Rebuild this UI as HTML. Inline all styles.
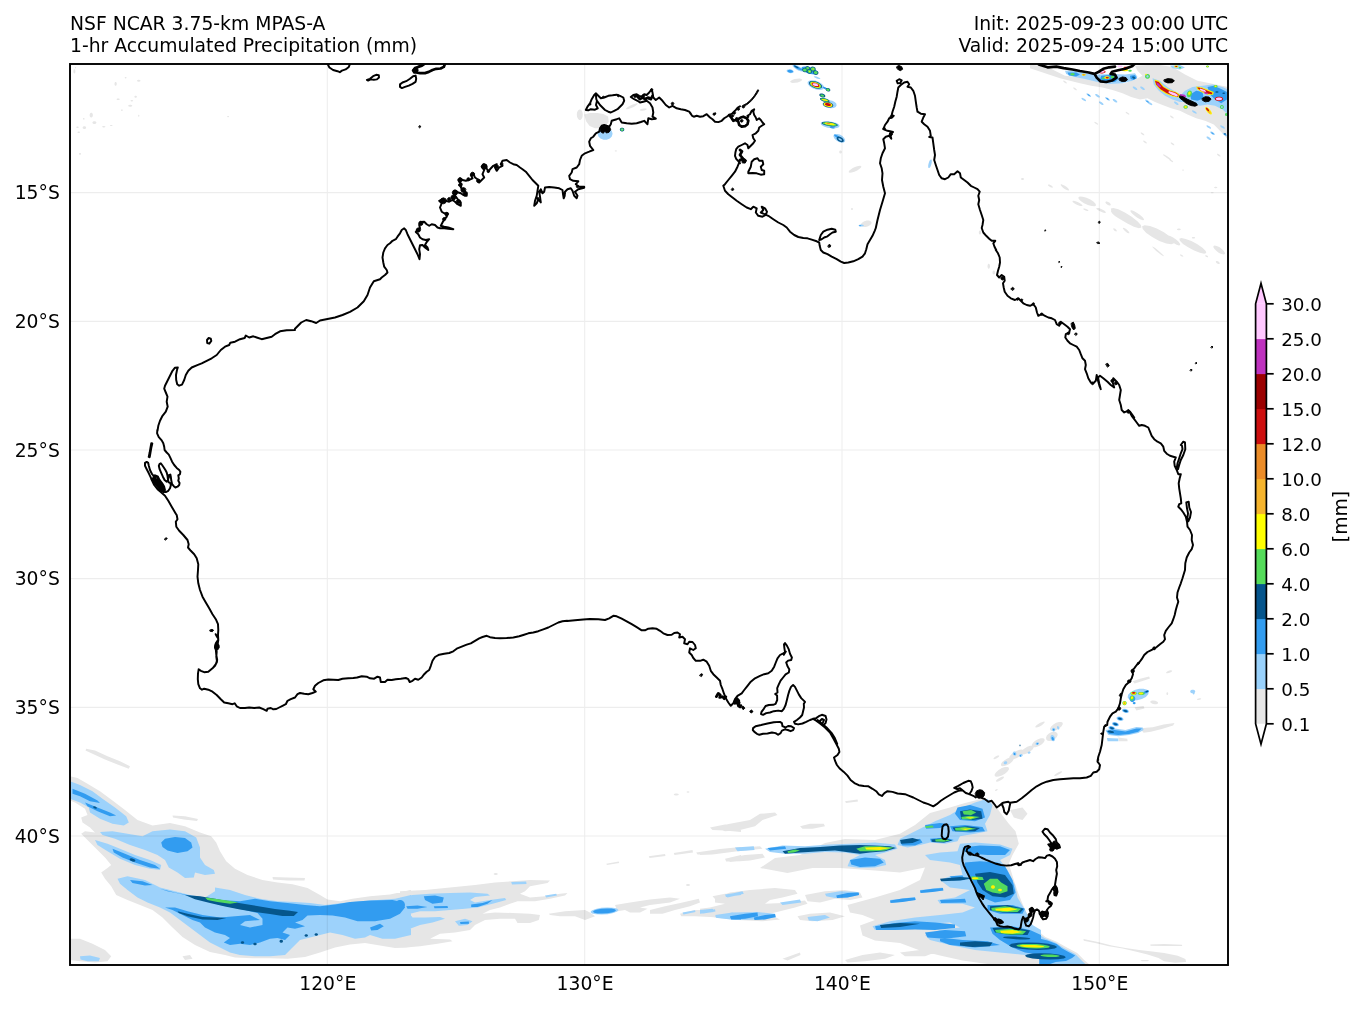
<!DOCTYPE html>
<html lang="en"><head><meta charset="utf-8"><title>NSF NCAR 3.75-km MPAS-A 1-hr Accumulated Precipitation</title>
<style>
html,body{margin:0;padding:0;background:#fff;}
body{width:1364px;height:1009px;overflow:hidden;}
svg{display:block;will-change:transform;opacity:0.9999;}
text{font-family:"DejaVu Sans","Liberation Sans",sans-serif;font-size:18.75px;fill:#000;}
</style></head><body>
<svg width="1364" height="1009" viewBox="0 0 1364 1009">
<rect x="0" y="0" width="1364" height="1009" fill="#ffffff"/>
<defs><clipPath id="mapclip"><rect x="70" y="64" width="1158" height="901"/></clipPath>
<filter id="b1" x="-20%" y="-20%" width="140%" height="140%"><feGaussianBlur stdDeviation="0.6"/></filter>
</defs>

<g clip-path="url(#mapclip)">
<path d="M70.0 776.2L77.5 778.0L87.5 783.8L100.0 791.2L112.5 800.5L125.0 810.0L137.5 820.0L152.5 825.5L170.0 823.0L185.0 826.2L200.0 832.5L211.2 836.2L216.2 842.5L220.0 851.2L226.2 861.2L235.0 868.8L247.5 875.0L262.5 880.0L277.5 882.5L292.5 884.2L307.5 888.0L320.0 895.0L327.5 899.5L340.0 901.2L352.5 898.8L370.0 896.2L390.0 894.5L411.0 890.0L411.0 947.5L395.0 948.0L380.0 945.5L365.0 943.0L350.0 944.5L335.0 947.5L320.0 952.5L305.0 957.0L287.5 958.8L270.0 958.2L252.5 958.2L235.0 957.5L225.0 955.0L210.0 952.0L195.0 945.0L182.5 937.0L172.5 927.5L162.5 917.5L152.5 910.0L140.0 905.0L127.5 900.0L116.2 895.0L111.2 886.2L105.0 878.8L101.2 872.5L107.5 868.0L111.2 865.0L105.0 857.5L95.0 847.5L85.0 837.5L81.2 833.8L85.0 831.2L95.0 832.5L90.0 827.5L82.5 822.5L81.2 817.5L87.5 815.0L85.0 808.8L75.0 802.5L70.0 800.5ZM86.2 748.8L95.0 750.5L107.5 756.2L120.0 761.2L130.0 766.2L128.8 768.8L117.5 764.5L105.0 759.5L92.5 753.8L85.5 750.5ZM172.5 815.5L185.0 816.2L198.0 819.0L197.0 821.0L183.8 819.5L173.0 817.5ZM272.5 877.0L287.5 877.5L305.0 878.0L304.5 880.5L287.5 880.5L273.0 879.5ZM70.0 938.8L80.0 938.8L92.5 943.8L105.0 950.0L111.2 956.2L107.5 961.2L95.0 962.5L80.0 961.2L70.0 960.0ZM182.5 956.2L190.0 955.0L192.5 958.8L185.0 960.0ZM400.0 891.2L425.0 890.0L450.0 887.5L475.0 885.0L495.0 882.5L512.5 881.2L530.0 880.0L550.0 880.5L547.5 883.0L530.0 886.2L525.0 891.2L520.0 893.8L530.0 897.5L545.0 896.2L560.0 893.8L567.5 893.0L565.0 895.5L550.0 898.8L535.0 901.2L517.5 901.2L510.0 903.8L500.0 907.5L490.0 910.0L482.5 913.8L495.0 912.5L512.5 913.0L530.0 913.8L540.0 915.0L538.8 920.0L530.0 923.0L517.5 923.0L515.0 918.8L500.0 918.8L485.0 920.0L475.0 925.0L470.0 930.0L455.0 932.5L440.0 933.8L430.0 938.8L450.0 939.5L452.5 941.2L437.5 943.8L420.0 946.2L400.0 948.0ZM497.8 874.0L497.6 874.4L497.0 874.8L496.2 875.0L495.3 875.0L494.5 874.8L493.9 874.4L493.8 874.0L493.9 873.6L494.5 873.2L495.3 873.0L496.2 873.0L497.0 873.2L497.6 873.6ZM548.8 913.8L565.0 911.2L585.0 910.0L590.0 912.5L595.0 916.2L585.0 920.0L575.0 916.2L560.0 916.2L550.0 915.0ZM615.0 905.0L630.0 902.5L650.0 899.5L670.0 897.5L680.0 898.8L670.0 902.5L650.0 905.0L640.0 907.5L647.5 908.8L640.0 912.5L630.0 912.5L625.0 910.0L617.5 911.2ZM650.0 910.0L665.0 906.2L682.5 902.5L698.8 898.8L700.0 902.5L690.0 906.2L675.0 910.0L662.5 913.8L650.0 913.8ZM606.2 863.8L618.8 861.5L619.2 863.0L607.0 865.0ZM648.8 856.2L665.0 854.0L665.5 856.0L649.5 858.0ZM673.8 853.0L692.5 850.0L693.0 852.5L674.5 855.0ZM696.2 852.5L720.0 849.0L741.0 847.0L741.0 850.5L720.0 852.5L697.5 854.5ZM710.0 827.5L725.0 824.5L741.0 823.0L741.0 832.0L725.0 830.5L712.5 830.0ZM725.0 858.8L741.0 855.0L741.0 861.2L726.2 861.5ZM680.0 913.8L695.0 910.0L712.5 908.8L725.0 911.2L741.0 910.0L741.0 920.0L725.0 918.0L710.0 917.0L695.0 916.2L681.2 916.2ZM712.5 896.2L725.0 893.8L741.0 891.2L741.0 898.0L725.0 899.0L715.0 899.0ZM678.8 794.5L678.5 794.9L677.8 795.3L676.8 795.5L675.7 795.5L674.7 795.3L674.0 794.9L673.8 794.5L674.0 794.1L674.7 793.7L675.7 793.5L676.8 793.5L677.8 793.7L678.5 794.1ZM689.5 792.0L689.4 792.3L688.9 792.6L688.3 792.7L687.7 792.7L687.1 792.6L686.6 792.3L686.5 792.0L686.6 791.7L687.1 791.4L687.7 791.3L688.3 791.3L688.9 791.4L689.4 791.7ZM690.0 885.0L689.8 885.4L689.2 885.8L688.4 886.0L687.6 886.0L686.8 885.8L686.2 885.4L686.0 885.0L686.2 884.6L686.8 884.2L687.6 884.0L688.4 884.0L689.2 884.2L689.8 884.6ZM847.5 905.0L875.0 897.5L900.0 890.0L920.0 880.0L925.0 867.5L900.0 872.5L875.0 870.5L840.0 868.0L812.5 868.0L787.5 873.0L760.0 868.0L775.0 858.0L800.0 855.0L825.0 843.0L845.0 839.0L875.0 840.0L900.0 833.8L915.0 825.0L930.0 813.0L950.0 807.5L965.0 803.0L985.0 798.0L993.8 803.8L1001.2 813.8L1008.8 823.8L1015.5 831.2L1018.8 843.8L1012.5 855.0L1008.8 863.8L1013.8 880.0L1018.0 892.5L1023.0 905.0L1028.8 917.5L1035.0 932.0L1041.0 940.0L1041.0 965.0L987.5 964.0L962.5 960.5L940.0 955.5L920.0 950.5L900.0 943.0L875.0 940.5L862.5 935.5L860.0 925.5L875.0 920.0L862.5 915.0L850.0 912.5ZM712.5 827.5L730.0 823.8L750.0 820.0L760.0 813.8L775.0 812.5L777.5 815.0L762.5 820.0L755.0 826.2L740.0 830.0L725.0 831.2ZM800.0 826.2L810.0 823.8L823.8 823.8L825.0 826.2L812.5 828.8L802.5 828.8ZM700.0 852.5L725.0 848.8L760.0 846.2L762.5 848.8L737.5 851.2L712.5 854.5L700.0 855.0ZM725.0 858.8L745.0 855.0L762.5 853.8L765.0 857.5L750.0 860.5L730.0 862.0ZM715.0 897.5L730.0 892.5L750.0 890.0L775.0 888.0L795.0 890.0L797.5 893.8L782.5 897.5L770.0 900.0L765.0 903.8L782.5 903.0L805.0 900.5L807.5 903.8L795.0 907.5L775.0 912.5L757.5 916.2L775.0 917.0L780.0 919.5L762.5 921.2L737.5 920.0L715.0 917.5L700.0 915.0L700.0 908.8L710.0 907.5L725.0 903.8L715.0 902.5ZM805.0 895.0L825.0 891.2L845.0 890.0L860.0 892.5L862.5 897.5L850.0 900.0L835.0 898.8L820.0 902.5L807.5 901.2ZM797.5 916.2L810.0 913.8L830.0 912.5L845.0 916.2L832.5 920.0L812.5 921.2L800.0 920.0ZM782.5 958.8L800.0 952.5L800.5 955.0L787.5 960.5ZM845.0 960.0L862.5 955.0L880.0 952.5L895.0 955.0L885.0 958.8L865.0 961.2L847.5 962.5ZM900.0 952.5L920.0 950.0L935.0 952.5L925.0 956.2L905.0 956.2ZM845.0 801.2L857.5 799.5L858.0 801.5L846.0 803.0ZM1010.0 810.0L1022.5 807.5L1027.5 813.8L1022.5 820.0L1013.8 817.5ZM1008.9 767.7L1008.9 769.4L1007.5 771.5L1005.0 773.7L1001.8 775.5L998.7 776.6L996.1 776.7L994.7 775.9L994.7 774.3L996.1 772.2L998.6 770.0L1001.8 768.1L1005.0 767.1L1007.5 766.9ZM1013.6 758.2L1013.6 759.6L1012.3 761.5L1010.1 763.5L1007.3 765.1L1004.5 766.1L1002.2 766.2L1001.0 765.5L1001.0 764.0L1002.2 762.1L1004.5 760.2L1007.3 758.6L1010.1 757.6L1012.3 757.4ZM1023.4 750.5L1023.5 752.1L1022.1 754.2L1019.5 756.4L1016.4 758.2L1013.2 759.3L1010.7 759.5L1009.3 758.6L1009.3 757.0L1010.7 754.9L1013.2 752.7L1016.3 750.9L1019.5 749.8L1022.0 749.6ZM1033.6 746.4L1033.6 747.8L1032.3 749.7L1030.1 751.6L1027.3 753.3L1024.5 754.2L1022.2 754.4L1021.0 753.6L1021.0 752.2L1022.2 750.3L1024.5 748.4L1027.3 746.7L1030.1 745.8L1032.3 745.6ZM1044.5 739.1L1044.6 740.7L1043.4 742.7L1041.2 744.7L1038.4 746.3L1035.5 747.2L1033.2 747.2L1031.9 746.4L1031.8 744.8L1033.0 742.8L1035.2 740.8L1038.0 739.2L1040.8 738.2L1043.1 738.2ZM1057.3 733.2L1057.7 735.0L1056.8 737.1L1055.0 739.0L1052.5 740.4L1049.9 741.1L1047.7 740.7L1046.3 739.5L1046.0 737.7L1046.8 735.6L1048.6 733.7L1051.1 732.3L1053.7 731.7L1055.9 732.0ZM1062.7 722.7L1062.7 724.3L1061.6 726.3L1059.4 728.3L1056.6 729.9L1053.7 730.8L1051.4 730.9L1050.1 730.0L1050.0 728.4L1051.2 726.4L1053.4 724.4L1056.2 722.8L1059.0 721.9L1061.3 721.9ZM1044.7 721.8L1044.6 722.6L1043.5 723.8L1041.8 725.2L1039.7 726.4L1037.6 727.2L1036.1 727.5L1035.3 727.3L1035.4 726.5L1036.5 725.3L1038.2 723.9L1040.3 722.7L1042.4 721.9L1043.9 721.5ZM1003.9 776.8L1003.9 777.6L1003.0 778.7L1001.6 779.8L999.8 780.8L998.1 781.5L996.8 781.7L996.1 781.4L996.1 780.6L997.0 779.5L998.4 778.4L1000.2 777.4L1001.9 776.7L1003.2 776.5ZM1062.1 771.4L1062.0 772.0L1061.1 773.0L1059.6 774.1L1057.8 775.1L1056.2 775.8L1054.9 776.1L1054.2 775.9L1054.4 775.3L1055.3 774.3L1056.8 773.2L1058.5 772.2L1060.2 771.5L1061.5 771.2ZM999.2 755.6L999.2 756.2L998.6 757.0L997.5 757.8L996.3 758.6L995.0 759.0L994.0 759.2L993.5 758.9L993.6 758.3L994.2 757.6L995.2 756.7L996.5 756.0L997.7 755.5L998.7 755.4ZM997.6 789.3L997.7 789.6L997.4 790.0L997.0 790.5L996.4 790.8L995.9 790.9L995.4 790.9L995.1 790.7L995.1 790.4L995.3 790.0L995.7 789.5L996.3 789.2L996.9 789.1L997.3 789.1ZM1140.0 728.2L1152.7 727.3L1163.6 724.5L1174.5 723.1L1173.1 725.5L1161.8 729.1L1150.9 731.8L1143.6 732.7ZM1132.7 681.3L1140.0 678.7L1149.1 676.5L1150.0 678.4L1141.8 681.3L1134.5 683.6ZM1134.5 707.3L1143.6 706.0L1144.5 708.5L1136.4 710.4ZM1158.1 703.1L1157.6 703.8L1156.4 704.2L1154.8 704.3L1153.0 704.0L1151.5 703.3L1150.5 702.5L1150.2 701.7L1150.8 701.0L1152.0 700.5L1153.6 700.5L1155.4 700.8L1156.9 701.4L1157.9 702.2ZM1172.2 670.7L1172.0 671.3L1171.3 671.9L1170.1 672.6L1168.8 673.1L1167.5 673.3L1166.5 673.3L1166.0 672.9L1166.2 672.4L1166.9 671.7L1168.0 671.1L1169.4 670.6L1170.7 670.3L1171.7 670.4ZM1201.2 698.7L1201.1 699.1L1200.5 699.4L1199.7 699.7L1198.7 699.9L1197.8 699.9L1197.2 699.7L1196.9 699.5L1197.1 699.1L1197.7 698.8L1198.5 698.5L1199.4 698.3L1200.3 698.3L1201.0 698.4ZM1168.2 693.6L1168.1 694.3L1167.8 694.8L1167.5 695.1L1167.1 695.1L1166.7 694.8L1166.5 694.3L1166.4 693.6L1166.5 693.0L1166.7 692.5L1167.1 692.2L1167.5 692.2L1167.8 692.5L1168.1 693.0ZM1118.2 737.6L1127.3 738.7L1127.6 741.3L1119.1 741.3ZM1030.0 64.5L1047.5 67.0L1065.0 75.8L1078.8 77.0L1095.0 80.8L1110.0 83.2L1125.0 83.2L1135.0 79.5L1142.5 75.8L1150.0 80.8L1157.5 88.2L1165.0 94.5L1172.5 98.2L1180.0 100.8L1186.2 105.8L1192.5 109.5L1201.2 112.0L1210.0 113.2L1220.0 112.0L1228.0 115.8L1228.0 139.5L1221.2 132.0L1213.8 124.5L1205.0 120.8L1196.2 118.2L1187.5 114.5L1180.0 110.8L1171.2 108.2L1162.5 105.1L1155.0 102.0L1147.5 98.2L1140.0 99.5L1131.2 97.0L1122.5 93.2L1112.5 90.1L1102.5 87.6L1091.2 85.8L1080.0 83.2L1070.0 80.8L1060.0 78.2L1045.0 73.2L1030.0 68.2ZM1135.0 65.8L1147.5 65.1L1160.0 65.1L1172.5 67.0L1185.0 74.5L1197.5 80.8L1210.0 83.2L1228.0 87.0L1228.0 115.8L1220.0 112.0L1210.0 113.2L1201.2 112.0L1192.5 109.5L1186.2 105.8L1180.0 100.8L1172.5 98.2L1165.0 94.5L1157.5 88.2L1150.0 80.8L1142.5 75.8L1137.5 70.8ZM1144.3 135.2L1144.0 135.3L1143.3 135.2L1142.5 134.8L1141.7 134.2L1141.0 133.6L1140.7 133.0L1140.7 132.6L1141.0 132.4L1141.7 132.6L1142.5 133.0L1143.3 133.6L1144.0 134.2L1144.3 134.8ZM1146.8 143.3L1146.5 143.4L1145.8 143.3L1145.0 142.9L1144.2 142.3L1143.5 141.7L1143.2 141.1L1143.2 140.7L1143.5 140.6L1144.2 140.7L1145.0 141.1L1145.8 141.7L1146.5 142.3L1146.8 142.9ZM1173.7 118.3L1173.3 118.4L1172.7 118.3L1171.9 117.9L1171.0 117.3L1170.4 116.7L1170.0 116.1L1170.0 115.7L1170.4 115.6L1171.1 115.7L1171.9 116.1L1172.7 116.7L1173.4 117.3L1173.7 117.9ZM1174.3 145.2L1174.0 145.3L1173.3 145.2L1172.5 144.8L1171.7 144.2L1171.0 143.6L1170.7 143.0L1170.7 142.6L1171.0 142.4L1171.7 142.6L1172.5 143.0L1173.3 143.6L1174.0 144.2L1174.3 144.8ZM1166.8 157.0L1166.5 157.2L1165.8 157.0L1165.0 156.6L1164.2 156.1L1163.5 155.4L1163.2 154.9L1163.2 154.5L1163.5 154.3L1164.2 154.5L1165.0 154.9L1165.8 155.4L1166.5 156.1L1166.8 156.6ZM1173.1 162.0L1172.7 162.2L1172.1 162.0L1171.2 161.6L1170.4 161.1L1169.8 160.4L1169.4 159.9L1169.4 159.5L1169.8 159.3L1170.4 159.5L1171.3 159.9L1172.1 160.4L1172.7 161.1L1173.1 161.6ZM1220.6 156.4L1220.2 156.6L1219.6 156.4L1218.7 156.0L1217.9 155.4L1217.3 154.8L1216.9 154.2L1216.9 153.8L1217.3 153.7L1217.9 153.8L1218.8 154.2L1219.6 154.8L1220.2 155.4L1220.6 156.0ZM1098.1 124.5L1097.7 124.7L1097.1 124.5L1096.2 124.1L1095.4 123.6L1094.8 122.9L1094.4 122.4L1094.4 122.0L1094.8 121.8L1095.4 122.0L1096.3 122.4L1097.1 122.9L1097.7 123.6L1098.1 124.1ZM1064.3 187.0L1064.0 187.2L1063.3 187.0L1062.5 186.6L1061.7 186.1L1061.0 185.4L1060.7 184.9L1060.7 184.5L1061.0 184.3L1061.7 184.5L1062.5 184.9L1063.3 185.4L1064.0 186.1L1064.3 186.6ZM1129.3 114.5L1129.0 114.7L1128.3 114.5L1127.5 114.1L1126.7 113.6L1126.0 112.9L1125.7 112.4L1125.7 112.0L1126.0 111.8L1126.7 112.0L1127.5 112.4L1128.3 112.9L1129.0 113.6L1129.3 114.1ZM1076.8 90.2L1076.5 90.3L1075.8 90.2L1075.0 89.8L1074.2 89.2L1073.5 88.6L1073.2 88.0L1073.2 87.6L1073.5 87.4L1074.2 87.6L1075.0 88.0L1075.8 88.6L1076.5 89.2L1076.8 89.8ZM1066.8 83.3L1066.5 83.4L1065.8 83.3L1065.0 82.9L1064.2 82.3L1063.5 81.7L1063.2 81.1L1063.2 80.7L1063.5 80.6L1064.2 80.7L1065.0 81.1L1065.8 81.7L1066.5 82.3L1066.8 82.9ZM802.2 79.7L801.7 80.6L800.2 81.6L797.8 82.4L795.1 82.8L792.7 82.9L790.9 82.5L790.1 81.8L790.6 80.9L792.1 79.9L794.5 79.1L797.2 78.7L799.6 78.6L801.4 79.0ZM1141.4 227.6L1138.9 228.2L1133.9 226.8L1127.4 223.6L1120.6 219.4L1114.8 214.9L1111.4 211.0L1110.8 208.5L1113.3 207.9L1118.3 209.3L1124.9 212.5L1131.7 216.7L1137.4 221.3L1140.9 225.1ZM1124.6 220.1L1123.4 220.4L1121.0 219.7L1118.1 218.1L1115.0 216.0L1112.5 213.7L1111.1 211.8L1111.0 210.5L1112.2 210.2L1114.5 210.9L1117.5 212.4L1120.5 214.6L1123.0 216.8L1124.5 218.8ZM1144.0 220.1L1142.9 220.3L1140.6 219.5L1137.7 217.9L1134.6 215.8L1132.1 213.5L1130.6 211.7L1130.4 210.5L1131.6 210.3L1133.8 211.1L1136.8 212.7L1139.8 214.8L1142.4 217.0L1143.9 218.9ZM1174.0 243.2L1171.4 244.3L1166.2 243.5L1159.3 240.9L1152.2 237.1L1146.3 232.9L1142.7 229.0L1142.1 226.2L1144.7 225.2L1150.0 226.0L1156.8 228.5L1163.9 232.3L1169.8 236.6L1173.4 240.4ZM1180.2 245.1L1178.9 245.4L1176.6 244.7L1173.6 243.1L1170.6 241.0L1168.1 238.7L1166.6 236.8L1166.5 235.5L1167.7 235.2L1170.1 235.9L1173.1 237.4L1176.1 239.6L1178.6 241.8L1180.0 243.8ZM1206.3 253.0L1204.2 253.7L1199.9 252.8L1194.1 250.5L1188.1 247.3L1183.0 243.9L1179.9 240.8L1179.3 238.7L1181.4 238.0L1185.7 238.9L1191.4 241.1L1197.4 244.3L1202.5 247.8L1205.7 250.9ZM1096.0 205.5L1094.6 206.3L1091.7 206.1L1087.9 205.0L1084.0 203.2L1080.7 201.0L1078.7 198.9L1078.4 197.3L1079.8 196.5L1082.7 196.7L1086.5 197.8L1090.4 199.6L1093.7 201.8L1095.7 203.9ZM1082.5 205.8L1081.8 206.1L1080.2 205.9L1078.0 205.2L1075.8 204.2L1073.9 203.0L1072.7 201.9L1072.5 201.1L1073.2 200.8L1074.8 201.0L1077.0 201.7L1079.2 202.8L1081.1 204.0L1082.3 205.0ZM1224.9 254.0L1223.7 254.5L1221.6 254.1L1219.0 252.9L1216.5 251.1L1214.5 249.1L1213.4 247.3L1213.5 246.0L1214.7 245.5L1216.7 245.9L1219.3 247.1L1221.8 248.9L1223.8 250.9L1224.9 252.7ZM1052.8 187.5L1052.4 187.7L1051.5 187.6L1050.5 187.2L1049.4 186.6L1048.5 185.9L1048.0 185.2L1048.0 184.7L1048.5 184.5L1049.3 184.6L1050.4 185.0L1051.4 185.6L1052.3 186.3L1052.8 187.0ZM1069.0 190.3L1068.2 190.5L1066.9 190.1L1065.1 189.2L1063.3 188.0L1061.9 186.7L1061.1 185.5L1061.0 184.7L1061.8 184.5L1063.1 184.9L1064.9 185.8L1066.7 187.0L1068.1 188.3L1068.9 189.5ZM1105.9 212.6L1105.2 213.0L1103.6 212.8L1101.6 212.1L1099.5 211.1L1097.7 210.0L1096.5 209.0L1096.3 208.2L1097.1 207.9L1098.6 208.0L1100.6 208.7L1102.7 209.7L1104.6 210.8L1105.7 211.9ZM1110.7 205.0L1110.1 205.4L1109.2 205.4L1108.0 205.0L1106.8 204.3L1105.9 203.5L1105.4 202.6L1105.4 201.9L1106.0 201.6L1106.9 201.6L1108.1 202.0L1109.3 202.6L1110.2 203.5L1110.7 204.3ZM1163.9 256.3L1163.1 256.1L1161.3 254.9L1158.8 253.1L1156.2 250.9L1154.0 248.8L1152.6 247.2L1152.2 246.5L1153.0 246.7L1154.8 247.8L1157.3 249.7L1159.9 251.9L1162.1 254.0L1163.6 255.5ZM1171.2 160.0L1170.6 160.1L1169.5 159.7L1168.1 158.8L1166.6 157.8L1165.3 156.7L1164.5 155.8L1164.4 155.2L1164.9 155.2L1166.0 155.6L1167.5 156.4L1169.0 157.5L1170.3 158.6L1171.1 159.5ZM1220.6 156.4L1220.3 156.6L1219.8 156.5L1219.1 156.3L1218.5 156.0L1218.0 155.5L1217.7 155.1L1217.7 154.7L1218.0 154.5L1218.5 154.6L1219.2 154.8L1219.8 155.2L1220.3 155.6L1220.6 156.0ZM1183.8 170.1L1183.7 170.4L1183.5 170.7L1183.2 170.8L1182.9 170.8L1182.6 170.7L1182.4 170.4L1182.4 170.1L1182.4 169.8L1182.6 169.6L1182.9 169.5L1183.2 169.5L1183.5 169.6L1183.7 169.8ZM1217.4 187.5L1217.2 187.8L1216.7 188.0L1216.1 188.2L1215.3 188.2L1214.7 188.0L1214.2 187.8L1214.0 187.5L1214.2 187.2L1214.7 187.0L1215.3 186.8L1216.1 186.8L1216.7 187.0L1217.2 187.2ZM1213.6 192.8L1213.5 193.0L1213.1 193.2L1212.5 193.3L1211.9 193.3L1211.4 193.2L1211.0 193.0L1210.8 192.8L1211.0 192.5L1211.4 192.3L1211.9 192.2L1212.5 192.2L1213.1 192.3L1213.5 192.5ZM1129.3 233.2L1128.7 233.3L1127.5 232.9L1126.1 232.0L1124.7 230.8L1123.6 229.6L1122.9 228.5L1122.9 227.9L1123.5 227.8L1124.7 228.2L1126.1 229.1L1127.5 230.3L1128.7 231.6L1129.3 232.6ZM1116.7 231.3L1116.3 231.5L1115.6 231.3L1114.8 230.9L1114.0 230.3L1113.5 229.6L1113.2 228.9L1113.3 228.4L1113.7 228.3L1114.4 228.4L1115.2 228.8L1116.0 229.5L1116.5 230.2L1116.8 230.8ZM1180.8 229.4L1180.6 229.8L1180.1 230.1L1179.3 230.3L1178.5 230.3L1177.7 230.1L1177.1 229.8L1176.9 229.4L1177.1 229.1L1177.7 228.8L1178.5 228.6L1179.3 228.6L1180.1 228.8L1180.6 229.1ZM1195.1 237.8L1195.0 238.1L1194.5 238.4L1193.8 238.6L1193.1 238.6L1192.4 238.4L1192.0 238.1L1191.8 237.8L1192.0 237.4L1192.4 237.1L1193.1 237.0L1193.8 237.0L1194.5 237.1L1195.0 237.4ZM1219.7 263.6L1219.3 263.9L1218.5 263.9L1217.7 263.7L1216.8 263.2L1216.1 262.6L1215.8 261.9L1215.9 261.4L1216.3 261.1L1217.0 261.1L1217.9 261.3L1218.7 261.8L1219.4 262.4L1219.8 263.1ZM1183.4 256.5L1183.0 256.7L1182.4 256.6L1181.7 256.4L1181.0 255.9L1180.3 255.4L1180.0 254.9L1180.0 254.6L1180.3 254.4L1180.9 254.5L1181.6 254.8L1182.4 255.2L1183.0 255.7L1183.3 256.2ZM1088.4 210.7L1088.1 210.9L1087.2 210.9L1086.1 210.7L1085.0 210.3L1084.0 209.7L1083.4 209.2L1083.2 208.8L1083.6 208.5L1084.4 208.5L1085.5 208.7L1086.7 209.2L1087.7 209.7L1088.3 210.2ZM1208.1 257.1L1207.8 257.3L1207.2 257.3L1206.6 257.1L1205.9 256.8L1205.4 256.3L1205.2 255.8L1205.2 255.4L1205.5 255.2L1206.1 255.2L1206.8 255.4L1207.4 255.7L1207.9 256.2L1208.1 256.7ZM582.8 114.6L582.5 117.0L581.7 118.8L580.5 119.9L579.2 119.9L578.0 118.8L577.1 117.0L576.8 114.6L577.1 112.3L578.0 110.5L579.2 109.4L580.5 109.4L581.7 110.5L582.5 112.3ZM584.3 114.6L589.6 112.9L597.4 112.9L603.3 114.0L608.1 116.4L608.7 121.8L605.7 126.0L601.0 128.3L595.0 128.3L589.6 126.0L586.1 121.2ZM637.8 103.5L637.5 104.3L636.0 105.5L633.8 106.9L631.1 108.1L628.6 109.0L626.8 109.3L626.0 109.1L626.3 108.3L627.8 107.1L630.0 105.8L632.7 104.5L635.2 103.7L637.0 103.3ZM646.7 109.0L646.5 109.5L645.6 110.0L644.2 110.5L642.6 110.8L641.2 110.8L640.1 110.6L639.7 110.2L640.0 109.7L640.9 109.1L642.3 108.7L643.8 108.4L645.3 108.4L646.3 108.6ZM616.9 151.0L616.8 151.3L616.5 151.5L616.1 151.6L615.6 151.6L615.2 151.5L614.9 151.3L614.8 151.0L614.9 150.6L615.2 150.4L615.6 150.3L616.1 150.3L616.5 150.4L616.8 150.6ZM116.8 83.9L116.6 84.7L116.3 85.4L115.9 85.8L115.4 85.8L114.9 85.4L114.6 84.7L114.5 83.9L114.6 83.0L114.9 82.3L115.4 81.9L115.9 81.9L116.3 82.3L116.6 83.0ZM126.5 77.6L126.4 78.0L126.2 78.2L125.8 78.4L125.4 78.4L125.1 78.2L124.8 78.0L124.8 77.6L124.8 77.3L125.1 77.0L125.4 76.9L125.8 76.9L126.2 77.0L126.4 77.3ZM140.5 80.8L140.3 81.2L139.8 81.5L139.1 81.7L138.4 81.7L137.7 81.5L137.2 81.2L137.0 80.8L137.2 80.3L137.7 80.0L138.4 79.8L139.1 79.8L139.8 80.0L140.3 80.3ZM119.8 99.2L119.6 99.6L119.1 99.9L118.5 100.1L117.8 100.1L117.1 99.9L116.7 99.6L116.5 99.2L116.7 98.9L117.1 98.6L117.8 98.4L118.5 98.4L119.1 98.6L119.6 98.9ZM136.9 96.8L136.8 97.2L136.4 97.5L135.9 97.7L135.3 97.7L134.8 97.5L134.5 97.2L134.4 96.8L134.5 96.3L134.8 96.0L135.3 95.8L135.9 95.8L136.4 96.0L136.8 96.3ZM133.2 100.8L133.1 101.0L132.7 101.2L132.2 101.4L131.6 101.4L131.0 101.2L130.6 101.0L130.5 100.8L130.6 100.5L131.0 100.3L131.6 100.1L132.2 100.1L132.7 100.3L133.1 100.5ZM132.2 105.8L132.1 106.2L131.5 106.5L130.7 106.7L129.8 106.7L129.0 106.5L128.4 106.2L128.2 105.8L128.4 105.3L129.0 105.0L129.8 104.8L130.7 104.8L131.5 105.0L132.1 105.3ZM122.8 110.1L122.7 110.5L122.4 110.7L122.1 110.9L121.7 110.9L121.3 110.7L121.1 110.5L121.0 110.1L121.1 109.8L121.3 109.5L121.7 109.4L122.1 109.4L122.4 109.5L122.7 109.8ZM92.9 115.1L92.7 116.2L92.3 117.1L91.6 117.6L90.9 117.6L90.2 117.1L89.8 116.2L89.6 115.1L89.8 114.0L90.2 113.2L90.9 112.7L91.6 112.7L92.3 113.2L92.7 114.0ZM96.4 122.6L96.2 123.2L95.6 123.7L94.8 124.0L93.9 124.0L93.1 123.7L92.6 123.2L92.4 122.6L92.6 122.0L93.1 121.5L93.9 121.3L94.8 121.3L95.6 121.5L96.2 122.0ZM84.6 118.9L84.5 119.2L84.3 119.5L83.9 119.6L83.6 119.6L83.2 119.5L83.0 119.2L82.9 118.9L83.0 118.5L83.2 118.3L83.6 118.1L83.9 118.1L84.3 118.3L84.5 118.5ZM78.9 127.2L78.7 127.6L78.4 127.8L77.8 128.0L77.2 128.0L76.6 127.8L76.3 127.6L76.1 127.2L76.3 126.9L76.6 126.7L77.2 126.5L77.8 126.5L78.4 126.7L78.7 126.9ZM86.1 127.6L86.0 128.2L85.5 128.7L84.8 129.0L84.0 129.0L83.3 128.7L82.8 128.2L82.6 127.6L82.8 127.0L83.3 126.5L84.0 126.3L84.8 126.3L85.5 126.5L86.0 127.0ZM80.1 132.2L80.0 132.5L79.6 132.7L79.1 132.9L78.4 132.9L77.9 132.7L77.5 132.5L77.4 132.2L77.5 132.0L77.9 131.8L78.4 131.6L79.1 131.6L79.6 131.8L80.0 132.0ZM105.5 126.8L105.3 127.0L104.8 127.2L104.1 127.4L103.4 127.4L102.7 127.2L102.2 127.0L102.0 126.8L102.2 126.5L102.7 126.3L103.4 126.1L104.1 126.1L104.8 126.3L105.3 126.5ZM112.5 125.5L112.4 125.8L112.0 126.0L111.5 126.1L111.0 126.1L110.5 126.0L110.1 125.8L110.0 125.5L110.1 125.2L110.5 125.0L111.0 124.9L111.5 124.9L112.0 125.0L112.4 125.2ZM139.4 115.8L139.3 116.2L139.1 116.5L138.9 116.7L138.6 116.7L138.4 116.5L138.2 116.2L138.1 115.8L138.2 115.3L138.4 115.0L138.6 114.8L138.9 114.8L139.1 115.0L139.3 115.3ZM75.4 71.4L75.3 72.4L75.0 73.1L74.6 73.6L74.2 73.6L73.8 73.1L73.5 72.4L73.4 71.4L73.5 70.4L73.8 69.6L74.2 69.2L74.6 69.2L75.0 69.6L75.3 70.4ZM76.1 67.6L76.1 68.0L75.9 68.2L75.7 68.4L75.5 68.4L75.3 68.2L75.2 68.0L75.1 67.6L75.2 67.3L75.3 67.0L75.5 66.9L75.7 66.9L75.9 67.0L76.1 67.3ZM81.0 153.9L80.9 154.3L80.6 154.7L80.2 154.8L79.8 154.8L79.4 154.7L79.1 154.3L79.0 153.9L79.1 153.4L79.4 153.1L79.8 152.9L80.2 152.9L80.6 153.1L80.9 153.4ZM229.1 116.6L229.0 116.9L228.7 117.1L228.3 117.2L227.9 117.2L227.5 117.1L227.2 116.9L227.1 116.6L227.2 116.4L227.5 116.1L227.9 116.0L228.3 116.0L228.7 116.1L229.0 116.4ZM861.3 166.3L861.1 167.4L859.6 168.8L857.2 170.4L854.4 171.7L851.7 172.5L849.7 172.7L848.7 172.2L848.9 171.1L850.4 169.7L852.8 168.1L855.6 166.8L858.3 166.0L860.3 165.8ZM871.6 222.3L871.4 223.7L870.2 225.1L868.2 226.3L865.8 226.9L863.5 226.9L861.8 226.3L860.9 225.2L861.1 223.8L862.3 222.4L864.3 221.2L866.7 220.6L869.0 220.6L870.7 221.2ZM1024.0 179.0L1023.9 179.4L1023.4 179.8L1022.8 180.0L1022.2 180.0L1021.6 179.8L1021.1 179.4L1021.0 179.0L1021.1 178.6L1021.6 178.2L1022.2 178.0L1022.8 178.0L1023.4 178.2L1023.9 178.6ZM853.0 209.0L852.9 209.4L852.6 209.8L852.2 210.0L851.8 210.0L851.4 209.8L851.1 209.4L851.0 209.0L851.1 208.6L851.4 208.2L851.8 208.0L852.2 208.0L852.6 208.2L852.9 208.6ZM841.8 152.0L841.6 152.7L841.3 153.2L840.8 153.5L840.2 153.5L839.7 153.2L839.4 152.7L839.2 152.0L839.4 151.3L839.7 150.8L840.2 150.5L840.8 150.5L841.3 150.8L841.6 151.3ZM981.2 232.5L981.1 233.4L980.8 234.1L980.3 234.4L979.7 234.4L979.2 234.1L978.9 233.4L978.8 232.5L978.9 231.6L979.2 230.9L979.7 230.6L980.3 230.6L980.8 230.9L981.1 231.6ZM990.0 266.2L989.9 267.3L989.5 268.2L989.0 268.7L988.5 268.7L988.0 268.2L987.6 267.3L987.5 266.2L987.6 265.2L988.0 264.3L988.5 263.8L989.0 263.8L989.5 264.3L989.9 265.2ZM995.0 272.5L994.9 273.4L994.5 274.1L994.0 274.4L993.5 274.4L993.0 274.1L992.6 273.4L992.5 272.5L992.6 271.6L993.0 270.9L993.5 270.6L994.0 270.6L994.5 270.9L994.9 271.6ZM1041.0 933.4L1045.4 937.0L1056.7 941.8L1066.0 946.9L1077.2 953.1L1084.4 960.3L1090.1 965.0L1041.0 965.0ZM1083.4 939.0L1097.9 942.0L1111.7 945.5L1125.5 948.0L1139.2 949.9L1150.3 951.3L1164.1 953.1L1177.8 955.8L1185.4 959.0L1186.1 962.0L1175.1 962.7L1164.1 961.3L1158.5 957.9L1147.5 954.4L1136.5 951.7L1122.7 948.5L1108.9 946.2L1095.1 943.0L1083.8 940.7ZM1150.3 944.4L1164.1 944.1L1182.0 944.7L1182.2 946.0L1164.1 946.0L1150.5 945.8ZM1148.9 960.6L1148.5 960.9L1147.3 961.2L1145.7 961.3L1143.8 961.3L1142.2 961.2L1141.0 960.9L1140.6 960.6L1141.0 960.3L1142.2 960.1L1143.8 960.0L1145.7 960.0L1147.3 960.1L1148.5 960.3Z" fill="#e6e6e6" stroke="none"/>
<path d="M70.0 781.2L80.0 785.0L92.5 791.2L102.5 798.8L115.0 807.5L126.2 816.2L128.8 822.5L123.8 825.5L112.5 823.8L100.0 818.8L90.0 812.5L88.8 807.5L80.0 802.5L70.0 798.8ZM100.0 832.0L112.5 831.2L127.5 833.8L142.5 836.2L152.5 831.2L170.0 829.5L185.0 831.2L196.2 837.5L200.0 847.5L200.0 857.5L205.0 865.0L213.8 870.0L215.0 873.8L205.0 875.0L195.0 872.5L193.8 877.5L185.0 878.0L177.5 872.5L168.8 867.5L165.0 860.0L157.5 855.0L145.0 850.0L130.0 845.0L115.0 838.8L102.5 835.0ZM95.0 840.0L107.5 843.8L120.0 848.8L135.0 855.0L150.0 860.0L161.2 865.0L160.0 870.0L150.0 868.8L135.0 865.0L120.0 858.8L107.5 851.2L97.5 845.0ZM117.5 878.8L127.5 876.2L145.0 880.0L160.0 887.5L175.0 891.2L190.0 895.0L205.0 897.5L215.0 891.2L215.0 887.5L230.0 890.0L245.0 895.0L260.0 898.8L277.5 901.2L295.0 902.0L310.0 903.0L325.0 905.0L342.5 903.0L360.0 901.2L377.5 900.0L395.0 898.8L411.0 895.0L411.0 935.0L395.0 938.8L382.5 938.8L370.0 935.0L365.0 937.5L355.0 938.8L342.5 935.0L330.0 932.5L320.0 935.0L310.0 937.5L300.0 940.0L292.5 947.5L285.0 955.0L270.0 956.2L255.0 956.2L240.0 955.0L230.0 952.5L220.0 947.5L210.0 942.5L200.0 935.0L190.0 927.5L180.0 920.0L170.0 912.5L160.0 907.5L147.5 902.5L137.5 897.5L127.5 890.0L120.0 883.8ZM80.0 956.2L90.0 955.5L100.0 958.0L98.8 961.2L87.5 961.2L80.5 959.5ZM400.0 897.5L412.5 895.0L430.0 893.8L450.0 893.0L470.0 892.5L487.5 893.8L490.0 895.5L475.0 897.0L470.0 900.0L475.0 902.5L490.0 900.0L505.0 898.0L506.2 900.0L492.5 903.8L477.5 907.5L465.0 908.8L450.0 910.0L435.0 911.2L420.0 911.2L410.0 913.8L412.5 917.5L425.0 917.5L440.0 917.0L445.0 918.8L432.5 922.5L420.0 925.0L410.0 928.8L400.0 930.0ZM455.0 921.2L465.0 918.8L472.5 921.2L467.5 925.0L458.8 925.8ZM511.2 882.0L526.2 881.5L526.5 884.0L512.0 884.5ZM545.0 895.5L556.2 893.8L557.0 895.5L546.2 897.5ZM618.5 910.0L617.2 911.6L613.4 913.1L607.8 914.2L601.6 914.6L596.0 914.3L592.0 913.4L590.5 912.0L591.8 910.4L595.6 908.9L601.2 907.8L607.4 907.4L613.0 907.7L617.0 908.6ZM682.5 912.5L695.0 910.2L695.5 912.0L683.5 914.5ZM702.5 911.2L715.0 909.2L715.5 911.5L703.5 913.5ZM715.0 916.2L732.5 912.2L733.5 914.5L716.5 918.0ZM725.0 894.5L741.0 892.0L741.0 895.0L726.0 897.0ZM765.0 848.8L782.5 845.5L805.0 846.2L830.0 844.5L850.0 843.8L875.0 842.5L895.0 844.5L897.5 848.8L885.0 852.5L875.0 855.0L885.0 860.0L886.2 865.0L875.0 867.5L860.0 868.0L847.5 866.2L850.0 860.0L860.0 855.0L845.0 852.5L825.0 852.0L805.0 853.8L785.0 853.8L770.0 852.0ZM735.0 847.5L753.8 846.2L754.5 850.0L737.5 851.2ZM975.0 802.5L987.5 798.8L992.5 805.0L990.0 815.0L985.0 823.8L987.5 831.2L975.0 833.8L960.0 836.2L957.5 841.2L945.0 843.8L930.0 842.5L920.0 845.0L907.5 847.5L897.5 845.0L900.0 838.8L910.0 833.8L922.5 827.5L935.0 821.2L950.0 815.0L960.0 808.8ZM960.0 843.8L975.0 842.5L1000.0 844.5L1012.5 848.8L1010.0 855.0L1000.0 860.0L1007.5 870.0L1015.0 885.0L1017.5 897.5L1025.0 910.0L1032.5 925.0L1041.0 930.0L1041.0 957.5L1025.0 955.0L1000.0 952.5L975.0 950.0L950.0 945.0L930.0 940.0L925.0 935.0L940.0 930.0L960.0 927.5L950.0 922.5L925.0 923.8L900.0 927.5L875.0 930.0L872.5 926.2L890.0 921.2L915.0 917.5L940.0 915.0L962.5 912.5L975.0 907.5L962.5 903.8L940.0 903.8L937.5 900.0L955.0 897.5L970.0 890.0L950.0 887.5L940.0 880.0L950.0 876.2L962.5 875.0L960.0 865.0L950.0 862.5L930.0 860.0L925.0 855.0L940.0 852.5L957.5 851.2ZM890.0 900.0L915.0 897.0L916.2 900.0L892.5 903.0ZM920.0 890.0L942.5 887.5L943.8 890.5L921.2 893.0ZM825.0 893.8L840.0 891.2L857.5 892.0L858.8 895.0L847.5 897.5L835.0 898.0L826.2 896.2ZM725.0 895.0L742.5 891.2L743.8 893.8L727.5 897.5ZM780.0 902.5L800.0 899.5L801.2 902.5L782.5 905.0ZM700.0 910.0L712.5 908.8L713.8 912.0L700.0 913.8ZM715.0 915.0L732.5 912.5L757.5 912.0L775.0 913.8L776.2 917.5L757.5 919.5L735.0 920.0L717.5 918.0ZM807.5 917.0L825.0 915.0L830.0 917.5L817.5 921.2L808.8 920.5ZM1054.8 737.4L1055.1 738.8L1054.9 740.1L1054.3 741.0L1053.4 741.3L1052.3 741.1L1051.4 740.2L1050.7 738.9L1050.4 737.5L1050.6 736.2L1051.2 735.3L1052.1 735.0L1053.1 735.3L1054.1 736.2ZM1055.3 729.0L1055.4 729.8L1055.2 730.6L1054.6 731.2L1053.9 731.4L1053.1 731.4L1052.4 730.9L1051.9 730.3L1051.8 729.5L1052.1 728.7L1052.6 728.1L1053.4 727.8L1054.2 727.9L1054.9 728.3ZM1039.0 743.0L1039.0 743.7L1038.7 744.3L1038.1 744.8L1037.4 745.1L1036.6 745.1L1035.9 744.8L1035.6 744.3L1035.5 743.6L1035.8 743.0L1036.4 742.4L1037.2 742.2L1037.9 742.2L1038.6 742.5ZM1016.3 753.0L1016.4 754.0L1016.2 754.9L1015.7 755.5L1014.9 755.8L1014.1 755.6L1013.3 755.1L1012.8 754.3L1012.7 753.3L1012.9 752.4L1013.4 751.8L1014.2 751.5L1015.0 751.6L1015.8 752.2ZM1022.6 754.8L1022.7 755.5L1022.4 756.1L1021.8 756.6L1021.0 756.9L1020.2 756.9L1019.6 756.6L1019.2 756.1L1019.2 755.4L1019.5 754.8L1020.0 754.3L1020.8 754.0L1021.6 754.0L1022.2 754.3ZM1030.5 752.2L1030.5 752.7L1030.2 753.2L1029.8 753.6L1029.2 753.8L1028.5 753.8L1028.0 753.6L1027.7 753.2L1027.7 752.7L1027.9 752.2L1028.4 751.8L1029.0 751.6L1029.7 751.6L1030.2 751.8ZM1007.2 762.1L1007.2 762.8L1006.9 763.4L1006.3 763.9L1005.6 764.2L1004.8 764.2L1004.1 763.9L1003.7 763.3L1003.7 762.7L1004.0 762.0L1004.6 761.5L1005.3 761.3L1006.1 761.3L1006.8 761.6ZM1059.2 727.4L1059.4 728.2L1059.3 728.9L1059.0 729.4L1058.6 729.6L1058.0 729.4L1057.5 728.9L1057.2 728.2L1057.0 727.4L1057.1 726.7L1057.3 726.2L1057.8 726.1L1058.3 726.2L1058.8 726.7ZM1105.5 730.0L1114.5 728.5L1125.5 730.0L1136.4 727.1L1142.7 727.5L1143.6 730.0L1138.2 732.9L1129.1 735.1L1118.2 736.2L1108.2 735.1ZM1106.9 738.0L1118.2 738.4L1118.5 741.3L1107.6 741.3ZM1129.0 711.9L1128.4 712.6L1127.2 713.0L1125.7 713.0L1124.2 712.6L1122.9 711.8L1122.1 710.9L1121.9 710.0L1122.5 709.2L1123.7 708.8L1125.2 708.8L1126.7 709.2L1128.0 710.0L1128.8 710.9ZM1123.5 719.7L1122.9 720.4L1121.8 720.8L1120.3 720.8L1118.7 720.4L1117.4 719.7L1116.6 718.7L1116.5 717.8L1117.1 717.0L1118.2 716.6L1119.7 716.6L1121.3 717.1L1122.6 717.8L1123.4 718.7ZM1119.0 725.1L1118.4 725.9L1117.2 726.3L1115.7 726.3L1114.2 725.9L1112.9 725.1L1112.1 724.2L1111.9 723.2L1112.5 722.5L1113.7 722.1L1115.2 722.1L1116.7 722.5L1118.0 723.3L1118.8 724.2ZM1115.3 729.1L1114.8 729.9L1113.6 730.3L1112.1 730.3L1110.5 729.9L1109.2 729.1L1108.4 728.2L1108.3 727.2L1108.9 726.5L1110.0 726.1L1111.5 726.1L1113.1 726.5L1114.4 727.3L1115.2 728.2ZM1195.3 691.5L1195.0 692.2L1194.3 692.9L1193.3 693.2L1192.2 693.2L1191.1 692.9L1190.4 692.2L1190.2 691.5L1190.4 690.7L1191.1 690.0L1192.2 689.7L1193.3 689.7L1194.3 690.0L1195.0 690.7ZM1194.7 692.7L1194.6 693.5L1194.3 694.1L1193.9 694.5L1193.4 694.5L1193.0 694.1L1192.7 693.5L1192.5 692.7L1192.7 691.9L1193.0 691.3L1193.4 691.0L1193.9 691.0L1194.3 691.3L1194.6 691.9ZM1148.7 691.7L1148.3 694.3L1145.9 696.9L1141.9 699.1L1137.2 700.3L1132.7 700.4L1129.3 699.4L1127.6 697.4L1128.1 694.8L1130.5 692.2L1134.5 690.0L1139.2 688.8L1143.6 688.7L1147.1 689.7ZM1065.0 70.8L1075.0 70.8L1085.0 73.2L1097.5 74.5L1112.5 73.9L1125.0 74.5L1135.0 73.2L1137.5 77.0L1132.5 80.8L1122.5 83.2L1110.0 83.9L1097.5 82.0L1085.0 78.9L1072.5 76.4L1066.2 73.9ZM1185.0 90.8L1192.5 87.0L1202.5 85.8L1212.5 84.5L1222.5 87.0L1228.0 89.5L1228.0 114.5L1222.5 109.5L1215.0 105.8L1207.5 104.5L1200.0 105.8L1192.5 103.2L1185.0 99.5L1180.0 95.8ZM1152.5 78.2L1160.0 80.8L1167.5 87.0L1176.2 92.0L1183.8 95.8L1186.2 102.0L1180.0 102.0L1172.5 99.5L1165.0 95.8L1158.8 90.8L1153.8 84.5ZM1170.0 65.8L1180.0 65.1L1185.0 67.6L1180.0 69.5L1172.5 68.2ZM1091.0 96.7L1090.5 96.9L1089.7 96.7L1088.7 96.3L1087.7 95.6L1086.9 94.8L1086.5 94.1L1086.5 93.5L1087.0 93.3L1087.8 93.5L1088.8 94.0L1089.8 94.7L1090.6 95.5L1091.0 96.2ZM1086.0 101.1L1085.5 101.3L1084.7 101.1L1083.7 100.6L1082.7 99.9L1081.9 99.2L1081.5 98.4L1081.5 97.9L1082.0 97.7L1082.8 97.9L1083.8 98.4L1084.8 99.1L1085.6 99.8L1086.0 100.6ZM1099.8 97.3L1099.3 97.5L1098.5 97.4L1097.4 96.9L1096.4 96.2L1095.6 95.4L1095.2 94.7L1095.2 94.2L1095.7 94.0L1096.5 94.1L1097.6 94.6L1098.6 95.3L1099.4 96.1L1099.8 96.8ZM1109.8 100.5L1109.3 100.7L1108.5 100.5L1107.4 100.0L1106.4 99.3L1105.6 98.5L1105.2 97.8L1105.2 97.3L1105.7 97.1L1106.5 97.3L1107.6 97.7L1108.6 98.4L1109.4 99.2L1109.8 99.9ZM1103.5 104.8L1103.0 105.0L1102.2 104.9L1101.2 104.4L1100.2 103.7L1099.4 102.9L1099.0 102.2L1099.0 101.7L1099.5 101.5L1100.3 101.6L1101.3 102.1L1102.3 102.8L1103.1 103.6L1103.5 104.3ZM1117.3 102.3L1116.8 102.5L1116.0 102.4L1114.9 101.9L1113.9 101.2L1113.1 100.4L1112.7 99.7L1112.7 99.2L1113.2 99.0L1114.0 99.1L1115.1 99.6L1116.1 100.3L1116.9 101.1L1117.3 101.8ZM1137.3 89.8L1136.8 90.0L1136.0 89.9L1134.9 89.4L1133.9 88.7L1133.1 87.9L1132.7 87.2L1132.7 86.7L1133.2 86.5L1134.0 86.6L1135.1 87.1L1136.1 87.8L1136.9 88.6L1137.3 89.3ZM1144.8 89.8L1144.3 90.0L1143.5 89.9L1142.4 89.4L1141.4 88.7L1140.6 87.9L1140.2 87.2L1140.2 86.7L1140.7 86.5L1141.5 86.6L1142.6 87.1L1143.6 87.8L1144.4 88.6L1144.8 89.3ZM1149.8 103.0L1149.3 103.2L1148.5 103.0L1147.4 102.5L1146.4 101.8L1145.6 101.0L1145.2 100.3L1145.2 99.8L1145.7 99.6L1146.5 99.8L1147.6 100.2L1148.6 100.9L1149.4 101.7L1149.8 102.4ZM1152.3 105.1L1151.8 105.3L1151.0 105.1L1149.9 104.6L1148.9 103.9L1148.1 103.2L1147.7 102.4L1147.7 101.9L1148.2 101.7L1149.0 101.9L1150.1 102.4L1151.1 103.1L1151.9 103.8L1152.3 104.6ZM1211.0 128.6L1210.5 128.8L1209.7 128.6L1208.7 128.1L1207.7 127.4L1206.9 126.7L1206.5 125.9L1206.5 125.4L1207.0 125.2L1207.8 125.4L1208.8 125.9L1209.8 126.6L1210.6 127.3L1211.0 128.1ZM1214.8 134.8L1214.3 135.0L1213.5 134.9L1212.4 134.4L1211.4 133.7L1210.6 132.9L1210.2 132.2L1210.2 131.7L1210.7 131.5L1211.5 131.6L1212.6 132.1L1213.6 132.8L1214.4 133.6L1214.8 134.3ZM1211.0 139.8L1210.5 140.0L1209.7 139.9L1208.7 139.4L1207.7 138.7L1206.9 137.9L1206.5 137.2L1206.5 136.7L1207.0 136.5L1207.8 136.6L1208.8 137.1L1209.8 137.8L1210.6 138.6L1211.0 139.3ZM1224.8 128.6L1224.3 128.8L1223.5 128.6L1222.4 128.1L1221.4 127.4L1220.6 126.7L1220.2 125.9L1220.2 125.4L1220.7 125.2L1221.5 125.4L1222.6 125.9L1223.6 126.6L1224.4 127.3L1224.8 128.1ZM1227.3 136.1L1226.8 136.3L1226.0 136.1L1224.9 135.6L1223.9 134.9L1223.1 134.2L1222.7 133.4L1222.7 132.9L1223.2 132.7L1224.0 132.9L1225.1 133.4L1226.1 134.1L1226.9 134.8L1227.3 135.6ZM1196.6 113.6L1196.2 113.8L1195.3 113.6L1194.3 113.1L1193.3 112.4L1192.5 111.7L1192.1 110.9L1192.1 110.4L1192.6 110.2L1193.4 110.4L1194.4 110.9L1195.4 111.6L1196.2 112.3L1196.7 113.1ZM1178.5 104.8L1178.0 105.0L1177.2 104.9L1176.2 104.4L1175.2 103.7L1174.4 102.9L1174.0 102.2L1174.0 101.7L1174.5 101.5L1175.3 101.6L1176.3 102.1L1177.3 102.8L1178.1 103.6L1178.5 104.3ZM803.3 71.0L802.4 71.4L800.6 71.2L798.2 70.4L795.8 69.1L793.8 67.6L792.7 66.3L792.5 65.2L793.4 64.8L795.2 65.0L797.6 65.8L800.0 67.1L802.0 68.6L803.1 69.9ZM793.8 71.9L793.3 72.6L792.2 73.1L790.7 73.2L789.1 72.9L787.7 72.3L786.8 71.5L786.6 70.6L787.1 69.8L788.2 69.4L789.7 69.3L791.4 69.5L792.7 70.2L793.6 71.0ZM820.4 78.9L819.9 79.1L818.9 79.1L817.5 78.8L816.1 78.2L814.8 77.6L814.0 77.0L813.8 76.5L814.3 76.3L815.3 76.3L816.6 76.6L818.1 77.2L819.4 77.8L820.2 78.4ZM824.0 88.1L822.5 89.5L819.8 90.0L816.2 89.6L812.6 88.3L809.5 86.3L807.8 84.1L807.6 82.1L809.0 80.7L811.8 80.2L815.3 80.6L819.0 81.9L822.0 83.9L823.8 86.1ZM836.6 105.4L835.7 107.0L833.6 108.0L830.9 108.3L828.1 107.8L825.6 106.6L824.1 104.9L823.7 103.1L824.7 101.6L826.7 100.6L829.4 100.3L832.3 100.8L834.7 102.0L836.3 103.6ZM839.7 126.1L838.5 127.4L835.7 128.2L831.8 128.3L827.6 127.7L823.9 126.5L821.4 125.0L820.7 123.4L821.8 122.1L824.6 121.4L828.5 121.3L832.7 121.9L836.4 123.0L838.9 124.6ZM845.0 141.6L843.7 142.5L841.5 142.7L838.9 142.0L836.4 140.5L834.4 138.6L833.5 136.7L833.6 135.0L835.0 134.0L837.1 133.9L839.8 134.6L842.3 136.1L844.2 138.0L845.2 139.9ZM612.6 133.7L611.8 136.4L609.8 138.6L606.8 139.8L603.5 139.8L600.5 138.6L598.4 136.4L597.7 133.7L598.4 131.0L600.5 128.8L603.5 127.6L606.8 127.6L609.8 128.8L611.8 131.0ZM863.8 225.5L863.5 225.9L862.8 226.3L861.8 226.5L860.7 226.5L859.7 226.3L859.0 225.9L858.8 225.5L859.0 225.1L859.7 224.7L860.7 224.5L861.8 224.5L862.8 224.7L863.5 225.1ZM931.4 164.1L930.8 166.0L930.0 167.4L929.2 168.1L928.5 167.9L928.2 166.9L928.2 165.3L928.6 163.4L929.2 161.5L930.0 160.1L930.8 159.4L931.5 159.6L931.8 160.6L931.8 162.2ZM1039.3 934.4L1044.4 938.0L1055.7 942.8L1063.9 947.9L1075.2 954.1L1082.4 961.3L1086.5 965.0L1039.3 965.0ZM1041.3 952.6L1039.3 953.1L1033.5 953.4L1025.3 953.4L1016.2 953.1L1008.0 952.5L1002.3 951.8L1000.3 951.1L1002.3 950.6L1008.0 950.3L1016.3 950.3L1025.4 950.6L1033.6 951.2L1039.3 951.9Z" fill="#9dd2fb" stroke="none"/>
<path d="M161.2 842.5L165.0 838.8L175.0 837.0L185.0 838.0L191.2 842.5L192.5 847.5L187.5 851.2L177.5 853.0L167.5 850.5L162.5 847.0ZM72.5 788.8L85.0 793.8L97.5 800.5L100.0 803.0L90.0 801.2L80.0 796.2L72.5 793.8ZM85.0 802.5L97.5 807.5L110.0 812.5L116.2 815.5L110.0 816.2L97.5 811.2L87.5 806.2ZM112.5 848.8L125.0 853.8L140.0 860.0L155.0 865.0L160.0 868.8L150.0 867.5L135.0 862.5L122.5 857.5L113.8 852.5ZM160.0 888.8L175.0 892.5L187.5 895.0L202.5 898.8L220.0 900.0L240.0 901.2L255.0 898.8L270.0 901.2L287.5 903.0L305.0 905.0L320.0 906.2L335.0 904.5L350.0 902.0L370.0 900.5L392.5 900.0L403.8 902.5L405.0 907.5L400.0 913.8L390.0 918.8L375.0 921.2L357.5 921.2L345.0 917.5L332.5 915.5L320.0 915.0L307.5 915.5L302.5 920.0L295.0 922.5L305.0 926.2L295.0 928.8L287.5 927.5L282.5 932.5L290.0 935.0L285.0 940.0L277.5 938.0L270.0 938.8L260.0 942.5L250.0 945.0L240.0 943.8L230.0 945.0L223.8 942.5L230.0 938.0L225.0 935.0L215.0 932.5L205.0 927.5L200.0 922.5L192.5 920.0L182.5 915.0L172.5 910.0L165.0 907.5L175.0 907.5L187.5 911.2L202.5 915.0L220.0 917.5L235.0 916.2L250.0 915.0L260.0 920.0L245.0 921.2L240.0 925.0L250.0 927.5L262.5 925.0L262.5 918.8L257.5 913.0L245.0 910.0L232.5 907.5L220.0 905.0L207.5 901.2L195.0 897.5L180.0 893.8L167.5 891.2ZM130.0 880.0L142.5 881.2L152.5 885.0L145.0 885.5L132.5 883.0ZM370.0 927.5L380.0 923.8L383.8 926.2L377.5 930.0L371.2 930.5ZM423.8 896.2L435.0 895.5L443.8 897.5L442.5 902.5L432.5 903.8L425.0 900.0ZM406.2 906.2L417.5 905.5L427.5 907.0L417.5 908.8L407.5 908.8ZM433.8 906.2L447.5 906.0L448.0 908.0L434.5 908.2ZM471.2 904.5L482.5 903.0L492.5 900.0L487.5 903.8L477.5 907.0L471.2 907.0ZM405.0 905.0L404.5 907.2L403.1 908.9L401.1 909.9L398.9 909.9L396.9 908.9L395.5 907.2L395.0 905.0L395.5 902.8L396.9 901.1L398.9 900.1L401.1 900.1L403.1 901.1L404.5 902.8ZM460.0 922.0L468.8 921.5L469.0 923.8L460.5 924.0ZM616.0 910.2L614.9 911.4L611.8 912.4L607.2 913.3L602.1 913.6L597.5 913.4L594.2 912.8L593.0 911.8L594.1 910.6L597.2 909.6L601.8 908.7L606.9 908.4L611.5 908.6L614.8 909.2ZM730.0 917.0L741.0 915.0L741.0 919.5L731.2 919.5ZM850.0 860.0L865.0 857.5L880.0 858.8L883.8 862.5L875.0 866.2L860.0 867.0L851.2 864.5ZM767.5 848.0L785.0 846.2L786.2 848.8L770.0 850.5ZM730.0 916.2L745.0 913.8L757.5 912.5L758.0 916.2L745.0 918.8L731.2 919.5ZM753.8 917.5L765.0 915.0L775.0 914.0L775.5 917.0L765.0 919.5L754.5 920.0ZM836.2 895.5L847.5 893.0L858.8 892.5L859.0 895.0L847.5 897.5L837.0 898.0ZM890.0 900.5L902.5 898.5L915.0 897.5L915.5 900.0L902.5 902.0L890.5 903.0ZM920.0 890.5L932.5 888.8L943.0 888.0L943.2 890.5L932.5 892.0L920.5 893.0ZM875.0 926.2L895.0 923.0L915.0 921.2L935.0 922.5L955.0 924.5L955.0 928.0L935.0 930.0L915.0 929.5L895.0 930.0L876.2 930.0ZM920.0 838.8L910.0 841.2L900.0 842.5L902.5 845.5L915.0 845.5L922.5 842.5ZM962.5 847.5L980.0 845.5L1000.0 846.2L1010.0 850.0L1005.0 855.0L987.5 855.0L972.5 853.8L963.8 851.2ZM965.0 862.5L980.0 861.2L997.5 862.5L1005.0 866.2L1012.5 880.0L1015.5 892.5L1010.0 900.0L995.0 902.5L982.5 897.5L975.0 890.0L972.5 880.0L965.0 870.0ZM987.5 905.0L1012.5 905.0L1025.0 908.8L1022.5 913.8L1000.0 913.8L987.5 910.0ZM925.0 932.5L945.0 930.0L965.0 931.2L966.2 936.2L945.0 938.8L927.5 937.5ZM940.0 937.5L962.5 940.0L987.5 941.2L1000.0 945.0L975.0 947.5L950.0 945.0L940.0 941.2ZM990.0 927.5L1012.5 926.2L1030.0 930.0L1041.0 935.0L1041.0 955.0L1025.0 952.5L1012.5 947.5L1000.0 940.0L992.5 933.8ZM957.5 807.5L970.0 805.0L982.5 808.8L985.0 817.5L975.0 821.2L960.0 820.0L955.0 813.8ZM925.0 825.0L940.0 823.0L950.0 824.5L940.0 828.0L926.2 828.8ZM950.0 826.2L965.0 825.0L982.5 827.0L985.0 831.2L970.0 832.5L952.5 831.2ZM930.0 838.8L945.0 837.5L953.8 840.0L945.0 842.5L931.2 842.0ZM940.0 900.0L965.0 898.8L966.2 902.5L941.2 903.0ZM950.0 876.2L962.5 875.5L965.0 880.0L952.5 880.5ZM1053.8 738.4L1053.9 739.1L1053.9 739.8L1053.6 740.3L1053.1 740.5L1052.6 740.3L1052.1 739.8L1051.7 739.1L1051.5 738.3L1051.6 737.6L1051.9 737.1L1052.3 737.0L1052.9 737.2L1053.4 737.6ZM1054.5 729.3L1054.5 729.7L1054.4 730.1L1054.1 730.4L1053.7 730.5L1053.3 730.5L1053.0 730.3L1052.8 729.9L1052.7 729.5L1052.9 729.2L1053.1 728.9L1053.5 728.7L1053.9 728.8L1054.3 729.0ZM1038.3 743.3L1038.3 743.7L1038.2 744.0L1037.9 744.2L1037.5 744.4L1037.1 744.4L1036.8 744.2L1036.6 743.9L1036.6 743.6L1036.7 743.3L1037.0 743.0L1037.4 742.9L1037.8 742.9L1038.1 743.1ZM1015.4 753.7L1015.5 754.2L1015.4 754.6L1015.1 754.9L1014.7 755.1L1014.3 755.0L1013.9 754.7L1013.7 754.3L1013.6 753.8L1013.7 753.4L1014.0 753.1L1014.4 752.9L1014.8 753.0L1015.2 753.3ZM1021.0 755.6L1021.1 755.9L1021.0 756.2L1020.8 756.4L1020.5 756.5L1020.1 756.5L1019.9 756.3L1019.7 756.1L1019.6 755.7L1019.7 755.4L1020.0 755.2L1020.3 755.1L1020.6 755.1L1020.9 755.3ZM1106.4 730.9L1114.5 730.0L1125.5 731.5L1136.4 728.5L1141.8 728.5L1138.2 731.8L1129.1 734.0L1118.2 735.1L1109.1 734.0ZM1128.1 711.6L1127.7 712.2L1126.8 712.4L1125.7 712.4L1124.5 712.1L1123.5 711.6L1122.9 710.9L1122.8 710.2L1123.2 709.7L1124.1 709.4L1125.2 709.4L1126.4 709.7L1127.4 710.3L1128.0 710.9ZM1122.6 719.4L1122.2 720.0L1121.3 720.3L1120.2 720.3L1119.0 719.9L1118.1 719.4L1117.5 718.7L1117.4 718.0L1117.8 717.5L1118.7 717.2L1119.8 717.2L1121.0 717.5L1121.9 718.1L1122.5 718.8ZM1118.1 724.9L1117.7 725.4L1116.8 725.7L1115.7 725.7L1114.5 725.4L1113.5 724.8L1112.9 724.2L1112.8 723.5L1113.2 722.9L1114.1 722.6L1115.2 722.7L1116.4 723.0L1117.4 723.5L1118.0 724.2ZM1114.5 728.9L1114.0 729.4L1113.2 729.7L1112.0 729.7L1110.9 729.4L1109.9 728.8L1109.3 728.2L1109.2 727.5L1109.6 726.9L1110.5 726.6L1111.6 726.7L1112.8 727.0L1113.8 727.5L1114.4 728.2ZM1149.1 690.8L1149.0 691.4L1148.4 692.1L1147.4 692.8L1146.2 693.2L1145.0 693.4L1144.1 693.2L1143.6 692.8L1143.7 692.2L1144.3 691.5L1145.3 690.9L1146.5 690.4L1147.7 690.3L1148.6 690.4ZM1135.3 698.7L1135.0 700.1L1134.2 701.3L1133.0 701.9L1131.7 701.9L1130.5 701.3L1129.7 700.1L1129.5 698.7L1129.7 697.3L1130.5 696.2L1131.7 695.5L1133.0 695.5L1134.2 696.2L1135.0 697.3ZM1135.6 703.1L1135.5 703.6L1135.1 703.9L1134.5 704.2L1133.9 704.2L1133.3 703.9L1132.9 703.6L1132.7 703.1L1132.9 702.6L1133.3 702.2L1133.9 702.0L1134.5 702.0L1135.1 702.2L1135.5 702.6ZM1090.0 96.0L1089.7 96.1L1089.3 96.0L1088.7 95.7L1088.2 95.3L1087.8 94.9L1087.5 94.5L1087.5 94.3L1087.8 94.2L1088.2 94.3L1088.8 94.5L1089.3 94.9L1089.7 95.3L1090.0 95.7ZM1108.7 99.7L1108.5 99.8L1108.0 99.7L1107.5 99.5L1106.9 99.1L1106.5 98.7L1106.3 98.3L1106.3 98.0L1106.5 97.9L1107.0 98.0L1107.5 98.3L1108.1 98.7L1108.5 99.1L1108.7 99.5ZM1148.7 102.6L1148.5 102.7L1148.0 102.6L1147.5 102.3L1146.9 102.0L1146.5 101.5L1146.3 101.2L1146.3 100.9L1146.5 100.8L1147.0 100.9L1147.5 101.2L1148.1 101.5L1148.5 102.0L1148.7 102.3ZM1213.7 134.1L1213.5 134.2L1213.0 134.1L1212.5 133.8L1211.9 133.5L1211.5 133.0L1211.3 132.7L1211.3 132.4L1211.5 132.3L1212.0 132.4L1212.5 132.7L1213.1 133.0L1213.5 133.5L1213.7 133.8ZM1226.2 135.4L1226.0 135.5L1225.5 135.4L1225.0 135.1L1224.4 134.7L1224.0 134.3L1223.8 133.9L1223.8 133.6L1224.0 133.5L1224.5 133.6L1225.0 133.9L1225.6 134.3L1226.0 134.7L1226.2 135.1ZM1190.0 94.5L1196.2 90.8L1202.5 92.0L1203.8 98.2L1197.5 100.8L1191.2 99.5ZM1207.5 87.0L1213.8 85.8L1221.2 88.9L1226.9 92.0L1226.9 99.5L1221.2 103.2L1215.0 99.5L1210.0 94.5ZM1067.5 72.6L1076.2 72.6L1080.0 74.5L1076.2 76.4L1068.8 75.5ZM1130.0 75.8L1135.0 75.1L1136.9 78.2L1133.8 80.1L1130.6 78.9ZM1101.2 75.8L1115.0 74.5L1118.8 78.2L1115.0 82.0L1103.8 82.0L1100.0 79.5ZM802.1 70.2L801.5 70.4L800.1 70.1L798.3 69.4L796.4 68.4L794.8 67.3L793.9 66.3L793.7 65.7L794.3 65.5L795.7 65.7L797.5 66.5L799.4 67.5L801.0 68.5L801.9 69.5ZM793.0 71.7L792.6 72.3L791.8 72.6L790.6 72.7L789.4 72.5L788.3 72.0L787.6 71.4L787.5 70.8L787.9 70.2L788.7 69.9L789.9 69.8L791.1 70.0L792.1 70.5L792.8 71.1ZM818.0 73.2L816.7 74.3L814.1 74.6L810.6 74.1L806.9 72.9L803.7 71.2L801.8 69.4L801.4 67.8L802.6 66.8L805.3 66.5L808.8 67.0L812.5 68.2L815.6 69.9L817.6 71.7ZM827.3 89.3L826.9 89.5L826.1 89.5L825.1 89.2L824.0 88.7L823.2 88.1L822.6 87.5L822.6 87.0L823.0 86.8L823.7 86.8L824.8 87.1L825.8 87.6L826.7 88.2L827.2 88.8ZM834.9 128.0L834.6 128.3L833.8 128.4L832.8 128.4L831.6 128.2L830.6 127.9L830.0 127.5L829.8 127.1L830.1 126.8L830.8 126.7L831.9 126.7L833.0 126.9L834.0 127.2L834.7 127.6ZM840.2 138.3L839.6 138.5L838.6 138.3L837.3 137.8L835.9 137.0L834.8 136.2L834.2 135.4L834.1 134.8L834.6 134.6L835.7 134.7L837.0 135.3L838.3 136.0L839.4 136.9L840.1 137.7ZM861.2 225.8L861.1 226.0L860.8 226.1L860.3 226.2L859.7 226.2L859.2 226.1L858.9 226.0L858.8 225.8L858.9 225.5L859.2 225.4L859.7 225.3L860.3 225.3L860.8 225.4L861.1 225.5ZM1039.3 938.5L1047.5 940.6L1056.7 944.1L1061.8 948.3L1068.0 951.8L1075.2 955.4L1072.1 958.0L1066.0 961.1L1055.7 962.1L1047.5 965.0L1039.3 965.0Z" fill="#329cf0" stroke="none"/>
<path d="M185.0 895.0L200.0 896.2L215.0 898.8L230.0 901.5L245.0 904.0L260.0 906.5L275.0 909.0L290.0 910.8L298.0 912.0L293.8 916.0L282.5 916.0L270.0 914.0L255.0 912.0L240.0 909.5L225.0 906.5L210.0 903.0L195.0 899.2ZM177.5 911.2L187.5 913.8L202.5 917.0L217.5 917.5L226.2 918.0L217.5 920.0L202.5 919.5L187.5 916.2L178.8 913.0ZM135.3 861.0L134.8 861.5L133.9 861.7L132.6 861.6L131.4 861.1L130.3 860.5L129.7 859.7L129.7 859.0L130.2 858.5L131.1 858.3L132.4 858.4L133.6 858.9L134.7 859.5L135.3 860.3ZM96.9 808.2L96.5 808.5L95.9 808.7L95.1 808.6L94.2 808.3L93.6 807.8L93.2 807.3L93.1 806.8L93.5 806.5L94.1 806.3L94.9 806.4L95.8 806.7L96.4 807.2L96.8 807.7ZM244.2 942.5L244.1 943.0L243.6 943.5L242.9 943.7L242.1 943.7L241.4 943.5L240.9 943.0L240.8 942.5L240.9 942.0L241.4 941.5L242.1 941.3L242.9 941.3L243.6 941.5L244.1 942.0ZM256.8 944.0L256.6 944.5L256.1 945.0L255.4 945.2L254.6 945.2L253.9 945.0L253.4 944.5L253.2 944.0L253.4 943.5L253.9 943.0L254.6 942.8L255.4 942.8L256.1 943.0L256.6 943.5ZM283.0 941.2L282.8 941.9L282.3 942.4L281.6 942.7L280.9 942.7L280.2 942.4L279.7 941.9L279.5 941.2L279.7 940.6L280.2 940.1L280.9 939.8L281.6 939.8L282.3 940.1L282.8 940.6ZM308.0 935.5L307.8 936.0L307.3 936.5L306.6 936.7L305.9 936.7L305.2 936.5L304.7 936.0L304.5 935.5L304.7 935.0L305.2 934.5L305.9 934.3L306.6 934.3L307.3 934.5L307.8 935.0ZM318.0 934.5L317.8 935.0L317.3 935.5L316.6 935.7L315.9 935.7L315.2 935.5L314.7 935.0L314.5 934.5L314.7 934.0L315.2 933.5L315.9 933.3L316.6 933.3L317.3 933.5L317.8 934.0ZM782.5 851.2L800.0 848.0L820.0 847.0L840.0 845.5L860.0 845.0L875.0 845.5L890.0 846.2L896.2 848.0L885.0 851.2L870.0 852.5L860.0 853.8L850.0 852.5L835.0 850.5L820.0 851.2L800.0 852.5L785.0 853.8ZM900.0 840.0L912.5 838.0L920.0 840.0L912.5 843.0L901.2 843.8ZM960.0 811.2L970.0 809.5L981.2 811.2L982.5 818.8L972.5 820.0L961.2 818.8ZM952.5 827.5L967.5 826.2L980.0 828.0L975.0 831.2L955.0 831.2ZM931.2 839.5L943.8 838.2L952.5 840.5L943.8 842.5L932.5 842.0ZM975.0 873.8L990.0 872.0L1005.0 875.0L1012.5 885.0L1013.8 893.8L1005.0 897.5L992.5 896.2L982.5 890.0L977.5 882.5ZM990.0 906.2L1007.5 905.0L1023.8 908.8L1020.0 913.0L1002.5 912.5L990.0 910.0ZM940.0 878.8L960.0 877.0L975.0 878.0L960.0 880.5L941.2 881.2ZM992.5 928.0L1012.5 927.0L1030.0 930.5L1027.5 935.0L1010.0 935.0L995.0 932.5ZM960.0 942.5L975.0 941.2L992.5 942.5L990.0 946.2L972.5 947.0L960.0 945.5ZM880.0 925.0L900.0 923.0L920.0 923.8L900.0 927.0L881.2 928.0ZM1020.5 745.5L1020.5 745.8L1020.3 746.2L1020.1 746.3L1019.9 746.3L1019.7 746.2L1019.5 745.8L1019.5 745.5L1019.5 745.1L1019.7 744.7L1019.9 744.6L1020.1 744.6L1020.3 744.7L1020.5 745.1ZM1127.4 711.4L1127.1 711.8L1126.5 711.9L1125.7 711.9L1124.8 711.7L1124.1 711.3L1123.6 710.8L1123.5 710.4L1123.8 710.1L1124.4 709.9L1125.3 709.9L1126.1 710.2L1126.8 710.5L1127.3 711.0ZM1121.9 719.2L1121.6 719.6L1121.0 719.7L1120.2 719.7L1119.3 719.5L1118.6 719.1L1118.2 718.6L1118.1 718.2L1118.4 717.9L1119.0 717.7L1119.8 717.8L1120.7 718.0L1121.4 718.4L1121.8 718.8ZM1117.4 724.7L1117.1 725.0L1116.5 725.2L1115.7 725.2L1114.8 724.9L1114.1 724.5L1113.6 724.1L1113.5 723.7L1113.8 723.3L1114.4 723.2L1115.3 723.2L1116.1 723.4L1116.8 723.8L1117.3 724.3ZM1113.8 728.7L1113.5 729.0L1112.8 729.2L1112.0 729.2L1111.2 728.9L1110.4 728.5L1110.0 728.1L1109.9 727.7L1110.2 727.3L1110.8 727.2L1111.6 727.2L1112.5 727.4L1113.2 727.8L1113.7 728.3ZM1114.1 732.4L1113.7 732.8L1112.8 733.0L1111.4 733.0L1110.0 732.7L1108.8 732.3L1107.9 731.8L1107.7 731.2L1108.1 730.8L1109.0 730.6L1110.4 730.6L1111.8 730.9L1113.1 731.3L1113.9 731.9ZM1148.3 691.0L1148.2 691.3L1148.0 691.7L1147.5 692.0L1146.8 692.2L1146.3 692.3L1145.8 692.2L1145.5 692.0L1145.6 691.6L1145.9 691.2L1146.4 690.9L1147.0 690.7L1147.6 690.6L1148.0 690.7ZM1135.3 78.5L1134.9 78.8L1134.3 78.8L1133.6 78.7L1132.9 78.3L1132.4 77.8L1132.2 77.2L1132.2 76.8L1132.6 76.5L1133.2 76.4L1133.9 76.6L1134.6 77.0L1135.1 77.5L1135.3 78.0ZM1218.6 92.0L1218.5 92.3L1218.0 92.6L1217.3 92.7L1216.5 92.7L1215.8 92.6L1215.3 92.3L1215.1 92.0L1215.3 91.7L1215.8 91.4L1216.5 91.3L1217.3 91.3L1218.0 91.4L1218.5 91.7ZM1225.2 93.2L1225.1 93.5L1224.7 93.7L1224.1 93.9L1223.4 93.9L1222.8 93.7L1222.4 93.5L1222.2 93.2L1222.4 93.0L1222.8 92.8L1223.4 92.6L1224.1 92.6L1224.7 92.8L1225.1 93.0ZM1226.0 133.9L1225.9 134.1L1225.6 134.4L1225.2 134.5L1224.8 134.5L1224.4 134.4L1224.1 134.1L1224.0 133.9L1224.1 133.6L1224.4 133.4L1224.8 133.3L1225.2 133.3L1225.6 133.4L1225.9 133.6ZM1212.2 93.9L1212.2 94.1L1211.9 94.4L1211.5 94.5L1211.0 94.5L1210.6 94.4L1210.3 94.1L1210.2 93.9L1210.3 93.6L1210.6 93.4L1211.0 93.3L1211.5 93.3L1211.9 93.4L1212.2 93.6ZM798.5 68.0L798.1 68.2L797.3 68.0L796.3 67.7L795.3 67.1L794.5 66.5L793.9 66.0L793.8 65.6L794.2 65.4L795.0 65.5L796.0 65.9L797.0 66.5L797.9 67.1L798.4 67.6ZM807.5 70.7L807.0 71.6L806.0 72.1L804.9 72.3L803.7 72.0L802.8 71.3L802.3 70.3L802.3 69.3L802.8 68.5L803.7 67.9L804.9 67.8L806.0 68.1L807.0 68.8L807.5 69.7ZM812.0 72.1L811.5 73.0L810.6 73.5L809.4 73.7L808.3 73.4L807.3 72.7L806.8 71.7L806.8 70.7L807.3 69.9L808.2 69.3L809.4 69.2L810.6 69.5L811.5 70.2L812.0 71.1ZM815.7 69.7L815.1 70.6L814.1 71.2L812.9 71.4L811.7 71.0L810.7 70.3L810.1 69.3L810.1 68.2L810.7 67.3L811.6 66.7L812.9 66.6L814.1 66.9L815.1 67.6L815.7 68.7ZM818.4 73.3L817.9 74.2L816.9 74.8L815.8 74.9L814.6 74.6L813.7 73.9L813.2 72.9L813.2 71.9L813.7 71.1L814.6 70.5L815.8 70.4L816.9 70.7L817.9 71.4L818.4 72.3ZM809.9 68.7L809.5 69.5L808.7 70.0L807.7 70.1L806.7 69.8L805.9 69.2L805.4 68.4L805.4 67.5L805.8 66.7L806.6 66.2L807.7 66.1L808.7 66.4L809.5 67.0L809.9 67.8ZM822.1 87.2L820.9 88.3L818.7 88.8L815.9 88.4L812.9 87.3L810.5 85.8L809.1 84.0L809.0 82.5L810.1 81.3L812.3 80.9L815.2 81.3L818.1 82.3L820.5 83.9L821.9 85.6ZM830.3 90.6L829.8 91.2L828.9 91.5L827.9 91.5L826.9 91.1L826.1 90.5L825.7 89.7L825.7 88.9L826.2 88.3L827.0 87.9L828.0 87.9L829.1 88.3L829.9 89.0L830.3 89.8ZM825.3 96.6L824.7 97.3L823.6 97.6L822.3 97.6L821.0 97.1L820.0 96.3L819.4 95.4L819.4 94.5L819.9 93.8L821.0 93.5L822.3 93.6L823.6 94.0L824.7 94.8L825.3 95.8ZM829.6 101.3L829.0 101.9L827.4 102.1L825.4 101.9L823.2 101.4L821.4 100.5L820.2 99.6L819.9 98.7L820.5 98.1L822.1 97.9L824.1 98.1L826.3 98.7L828.1 99.5L829.3 100.5ZM833.3 105.7L832.6 106.8L830.9 107.5L828.7 107.6L826.3 107.2L824.3 106.3L823.0 105.1L822.7 103.8L823.4 102.7L825.0 102.0L827.3 101.8L829.6 102.3L831.7 103.2L833.0 104.4ZM837.9 125.2L837.0 126.0L834.6 126.4L831.3 126.4L827.6 125.8L824.4 125.0L822.2 123.9L821.5 122.9L822.5 122.1L824.8 121.7L828.2 121.8L831.8 122.3L835.1 123.2L837.2 124.2ZM843.7 141.4L842.8 142.1L841.5 142.2L839.9 141.8L838.3 140.9L837.1 139.7L836.6 138.5L836.7 137.4L837.5 136.8L838.9 136.6L840.5 137.1L842.1 138.0L843.2 139.1L843.8 140.4ZM624.3 129.5L624.1 130.4L623.5 131.0L622.6 131.4L621.6 131.4L620.7 131.0L620.0 130.4L619.8 129.5L620.0 128.7L620.7 128.0L621.6 127.7L622.6 127.7L623.5 128.0L624.1 128.7ZM1057.2 947.0L1054.8 948.6L1048.0 949.6L1038.3 950.0L1027.6 949.6L1018.0 948.6L1011.3 947.0L1009.0 945.4L1011.4 943.8L1018.2 942.8L1027.9 942.4L1038.6 942.8L1048.2 943.8L1054.9 945.4ZM1065.9 957.2L1063.9 958.4L1058.1 959.3L1049.9 959.6L1040.8 959.3L1032.5 958.4L1026.9 957.2L1024.9 955.7L1027.0 954.5L1032.7 953.6L1041.0 953.3L1050.1 953.6L1058.3 954.5L1064.0 955.8ZM1030.5 938.7L1029.1 939.2L1025.3 939.5L1019.7 939.5L1013.5 939.1L1008.0 938.6L1004.2 937.9L1002.8 937.3L1004.2 936.8L1008.1 936.5L1013.7 936.5L1019.8 936.9L1025.4 937.4L1029.2 938.1Z" fill="#05568c" stroke="none"/>
<path d="M205.0 897.5L215.0 898.8L227.5 900.5L238.0 902.5L230.0 903.8L217.5 902.0L207.5 900.0ZM787.5 851.2L795.0 849.5L800.0 850.5L793.8 852.5L788.0 853.0ZM856.2 848.8L865.0 846.2L880.0 846.2L893.8 847.5L885.0 850.5L872.5 851.2L860.0 851.2ZM962.5 811.2L971.2 810.0L976.2 812.5L971.2 815.0L963.8 814.5ZM961.2 817.0L970.0 815.8L980.0 817.0L971.2 819.5L962.0 819.2ZM955.0 828.0L965.0 827.0L976.2 828.8L966.2 830.8L955.5 830.5ZM925.0 826.2L932.5 825.5L933.8 827.5L925.8 828.0ZM935.0 839.5L943.8 838.8L950.0 840.5L943.8 841.8L935.8 841.5ZM983.8 883.8L990.0 878.8L997.5 878.8L1001.2 882.5L1007.5 886.2L1007.5 891.2L1000.0 893.8L992.5 892.5L986.2 890.0ZM971.2 876.2L982.5 877.0L983.8 880.0L972.5 880.0ZM991.2 908.0L1005.0 906.2L1021.2 908.8L1017.5 912.0L1002.5 912.0L992.0 910.5ZM995.0 930.0L1010.0 928.8L1026.2 931.2L1022.5 934.5L1007.5 934.5L996.2 932.5ZM1136.9 693.3L1136.6 694.1L1135.7 694.7L1134.4 695.0L1132.9 695.0L1131.6 694.7L1130.7 694.1L1130.4 693.3L1130.7 692.5L1131.6 691.9L1132.9 691.5L1134.4 691.5L1135.7 691.9L1136.6 692.5ZM1144.9 693.5L1144.5 694.2L1143.5 694.7L1142.1 695.0L1140.5 695.0L1139.0 694.7L1138.0 694.2L1137.6 693.5L1138.0 692.7L1139.0 692.2L1140.5 691.9L1142.1 691.9L1143.5 692.2L1144.5 692.7ZM1141.6 693.5L1141.5 693.7L1141.3 693.9L1140.9 694.0L1140.5 694.0L1140.2 693.9L1139.9 693.7L1139.8 693.5L1139.9 693.2L1140.2 693.0L1140.5 692.9L1140.9 692.9L1141.3 693.0L1141.5 693.2ZM1133.9 698.9L1133.3 699.8L1132.5 700.5L1131.6 700.7L1130.7 700.4L1130.1 699.6L1129.9 698.6L1130.1 697.5L1130.7 696.5L1131.5 695.9L1132.4 695.7L1133.3 696.0L1133.9 696.7L1134.1 697.8ZM1126.7 703.1L1126.5 704.0L1125.9 704.8L1125.0 705.2L1124.1 705.2L1123.2 704.8L1122.6 704.0L1122.4 703.1L1122.6 702.1L1123.2 701.4L1124.1 701.0L1125.0 701.0L1125.9 701.4L1126.5 702.1ZM1074.8 74.2L1074.5 74.8L1073.9 75.2L1073.0 75.5L1072.0 75.5L1071.1 75.2L1070.5 74.8L1070.2 74.2L1070.5 73.7L1071.1 73.3L1072.0 73.0L1073.0 73.0L1073.9 73.3L1074.5 73.7ZM1104.4 78.2L1104.3 78.7L1103.9 79.0L1103.4 79.2L1102.8 79.2L1102.3 79.0L1102.0 78.7L1101.9 78.2L1102.0 77.8L1102.3 77.5L1102.8 77.3L1103.4 77.3L1103.9 77.5L1104.3 77.8ZM1114.2 77.0L1114.1 77.7L1113.6 78.2L1112.9 78.5L1112.1 78.5L1111.4 78.2L1110.9 77.7L1110.8 77.0L1110.9 76.3L1111.4 75.8L1112.1 75.5L1112.9 75.5L1113.6 75.8L1114.1 76.3ZM1131.8 70.8L1131.6 71.2L1131.1 71.5L1130.4 71.7L1129.6 71.7L1128.9 71.5L1128.4 71.2L1128.2 70.8L1128.4 70.3L1128.9 70.0L1129.6 69.8L1130.4 69.8L1131.1 70.0L1131.6 70.3ZM1150.0 76.4L1149.8 77.5L1149.1 78.3L1148.1 78.8L1146.9 78.8L1145.9 78.3L1145.2 77.5L1145.0 76.4L1145.2 75.3L1145.9 74.4L1146.9 73.9L1148.1 73.9L1149.1 74.4L1149.8 75.3ZM1191.7 94.7L1191.0 96.1L1189.9 97.0L1188.7 97.3L1187.7 96.9L1187.0 95.9L1186.7 94.5L1187.0 93.0L1187.8 91.7L1188.8 90.8L1190.0 90.5L1191.1 90.9L1191.8 91.8L1192.0 93.2ZM1187.9 107.0L1187.7 107.8L1187.0 108.4L1186.1 108.7L1185.1 108.7L1184.2 108.4L1183.6 107.8L1183.4 107.0L1183.6 106.2L1184.2 105.6L1185.1 105.3L1186.1 105.3L1187.0 105.6L1187.7 106.2ZM1217.6 86.4L1217.4 87.0L1216.9 87.5L1216.1 87.8L1215.2 87.8L1214.4 87.5L1213.8 87.0L1213.6 86.4L1213.8 85.7L1214.4 85.2L1215.2 84.9L1216.1 84.9L1216.9 85.2L1217.4 85.7ZM1223.9 107.0L1223.7 107.9L1223.1 108.6L1222.3 108.9L1221.4 108.9L1220.6 108.6L1220.1 107.9L1219.9 107.0L1220.1 106.1L1220.6 105.4L1221.4 105.1L1222.3 105.1L1223.1 105.4L1223.7 106.1ZM1227.5 114.5L1227.4 115.2L1227.0 115.7L1226.5 116.0L1226.0 116.0L1225.5 115.7L1225.1 115.2L1225.0 114.5L1225.1 113.8L1225.5 113.3L1226.0 113.0L1226.5 113.0L1227.0 113.3L1227.4 113.8ZM1209.0 66.5L1208.9 66.9L1208.4 67.3L1207.8 67.5L1207.2 67.5L1206.6 67.3L1206.1 66.9L1206.0 66.5L1206.1 66.1L1206.6 65.7L1207.2 65.5L1207.8 65.5L1208.4 65.7L1208.9 66.1ZM1181.2 67.6L1181.1 68.0L1180.8 68.2L1180.3 68.4L1179.7 68.4L1179.2 68.2L1178.9 68.0L1178.8 67.6L1178.9 67.3L1179.2 67.0L1179.7 66.9L1180.3 66.9L1180.8 67.0L1181.1 67.3ZM806.7 70.5L806.4 71.1L805.7 71.5L804.9 71.6L804.1 71.4L803.4 70.9L803.0 70.2L803.0 69.5L803.4 68.9L804.0 68.6L804.8 68.5L805.7 68.7L806.3 69.2L806.7 69.8ZM811.3 71.9L810.9 72.5L810.3 72.9L809.4 73.0L808.6 72.8L807.9 72.3L807.6 71.6L807.6 70.9L807.9 70.3L808.6 69.9L809.4 69.9L810.2 70.1L810.9 70.6L811.2 71.2ZM814.9 69.5L814.5 70.2L813.8 70.6L812.9 70.7L812.0 70.4L811.3 69.9L810.9 69.2L810.9 68.4L811.3 67.8L812.0 67.4L812.9 67.3L813.8 67.5L814.5 68.0L814.9 68.8ZM817.6 73.1L817.3 73.7L816.6 74.1L815.8 74.2L815.0 74.0L814.3 73.5L813.9 72.8L813.9 72.1L814.3 71.5L814.9 71.2L815.7 71.1L816.6 71.3L817.2 71.8L817.6 72.4ZM809.2 68.5L808.9 69.0L808.4 69.3L807.7 69.4L807.0 69.2L806.5 68.8L806.2 68.3L806.1 67.7L806.4 67.2L807.0 66.9L807.6 66.8L808.3 67.0L808.9 67.4L809.2 67.9ZM821.2 86.9L820.3 87.9L818.3 88.2L815.9 87.9L813.3 86.9L811.2 85.6L809.9 84.1L809.8 82.8L810.8 81.8L812.7 81.5L815.2 81.8L817.7 82.8L819.8 84.1L821.1 85.6ZM829.6 90.3L829.3 90.8L828.7 91.0L827.9 91.0L827.2 90.7L826.6 90.2L826.3 89.7L826.3 89.1L826.7 88.7L827.3 88.5L828.0 88.5L828.7 88.7L829.3 89.2L829.6 89.8ZM824.3 96.3L823.9 96.6L823.3 96.8L822.4 96.7L821.5 96.4L820.8 95.9L820.4 95.3L820.3 94.9L820.7 94.5L821.4 94.4L822.2 94.4L823.1 94.8L823.8 95.2L824.2 95.8ZM828.8 101.1L828.3 101.5L827.0 101.6L825.3 101.4L823.5 100.9L822.0 100.3L821.0 99.5L820.7 98.9L821.2 98.5L822.5 98.4L824.2 98.6L826.0 99.1L827.5 99.8L828.5 100.5ZM837.1 125.1L836.2 125.7L834.1 125.9L831.1 125.8L827.9 125.4L825.0 124.6L823.0 123.8L822.4 123.0L823.2 122.5L825.3 122.2L828.3 122.3L831.6 122.8L834.5 123.5L836.4 124.3ZM623.8 129.5L623.6 130.1L623.1 130.6L622.5 130.9L621.7 130.9L621.0 130.6L620.6 130.1L620.4 129.5L620.6 128.9L621.0 128.5L621.7 128.2L622.5 128.2L623.1 128.5L623.6 128.9ZM1050.0 946.8L1048.3 947.7L1043.6 948.3L1036.8 948.5L1029.3 948.3L1022.5 947.6L1017.8 946.6L1016.2 945.6L1017.9 944.7L1022.6 944.1L1029.4 943.9L1037.0 944.1L1043.7 944.8L1048.4 945.8ZM1059.8 956.1L1058.8 956.6L1056.1 957.0L1052.2 957.1L1047.8 957.0L1043.9 956.6L1041.2 956.0L1040.3 955.4L1041.3 954.9L1044.0 954.5L1047.9 954.4L1052.3 954.5L1056.2 954.9L1058.8 955.5Z" fill="#52d95e" stroke="none"/>
<path d="M865.0 847.5L880.0 847.0L890.0 848.0L880.0 850.0L866.2 849.5ZM965.0 817.5L975.0 817.0L970.5 818.8ZM960.0 828.8L972.5 828.2L965.5 830.0ZM995.0 908.8L1010.0 907.5L1017.5 909.5L1007.5 911.2L996.2 910.5ZM1000.0 930.8L1012.5 930.0L1022.5 932.0L1012.5 933.8L1001.2 933.0ZM995.0 887.0L994.8 887.8L994.2 888.4L993.4 888.7L992.6 888.7L991.8 888.4L991.2 887.8L991.0 887.0L991.2 886.2L991.8 885.6L992.6 885.3L993.4 885.3L994.2 885.6L994.8 886.2ZM1002.0 890.0L1001.8 890.5L1001.2 891.0L1000.4 891.2L999.6 891.2L998.8 891.0L998.2 890.5L998.0 890.0L998.2 889.5L998.8 889.0L999.6 888.8L1000.4 888.8L1001.2 889.0L1001.8 889.5ZM978.5 878.2L978.2 878.7L977.2 879.0L975.8 879.2L974.2 879.2L972.8 879.0L971.8 878.7L971.5 878.2L971.8 877.8L972.8 877.5L974.2 877.3L975.8 877.3L977.2 877.5L978.2 877.8ZM1136.2 693.3L1135.9 693.9L1135.2 694.4L1134.2 694.7L1133.1 694.7L1132.0 694.4L1131.3 693.9L1131.1 693.3L1131.3 692.6L1132.0 692.1L1133.1 691.9L1134.2 691.9L1135.2 692.1L1135.9 692.6ZM1143.1 693.5L1142.9 693.9L1142.3 694.3L1141.4 694.5L1140.4 694.5L1139.5 694.3L1138.9 693.9L1138.7 693.5L1138.9 693.0L1139.5 692.6L1140.4 692.4L1141.4 692.4L1142.3 692.6L1142.9 693.0ZM1133.0 698.0L1132.7 698.6L1132.3 698.9L1131.7 699.1L1131.3 698.9L1131.0 698.5L1130.9 697.9L1131.0 697.3L1131.3 696.7L1131.7 696.3L1132.3 696.2L1132.7 696.4L1133.0 696.8L1133.1 697.4ZM1126.2 703.1L1126.0 703.8L1125.6 704.4L1124.9 704.7L1124.2 704.7L1123.5 704.4L1123.1 703.8L1122.9 703.1L1123.1 702.4L1123.5 701.8L1124.2 701.5L1124.9 701.5L1125.6 701.8L1126.0 702.4ZM1154.4 79.5L1158.8 80.8L1163.8 86.4L1170.0 90.1L1176.2 92.0L1180.0 94.5L1178.8 97.6L1172.5 96.4L1166.2 93.9L1160.0 90.1L1155.6 85.1ZM1196.2 86.4L1202.5 87.6L1208.8 90.1L1213.8 92.0L1213.1 94.8L1207.5 94.8L1201.2 92.0L1196.9 88.9ZM1213.2 92.6L1213.1 93.3L1212.6 93.8L1211.9 94.1L1211.1 94.1L1210.4 93.8L1209.9 93.3L1209.8 92.6L1209.9 92.0L1210.4 91.5L1211.1 91.2L1211.9 91.2L1212.6 91.5L1213.1 92.0ZM1211.7 114.3L1210.8 114.4L1209.5 113.9L1207.9 112.7L1206.5 111.1L1205.5 109.5L1205.1 108.1L1205.3 107.2L1206.2 107.1L1207.5 107.6L1209.1 108.8L1210.5 110.4L1211.5 112.0L1211.9 113.4ZM1085.8 74.8L1085.6 75.2L1085.0 75.6L1084.2 75.8L1083.3 75.8L1082.5 75.6L1081.9 75.2L1081.8 74.8L1081.9 74.3L1082.5 73.9L1083.3 73.7L1084.2 73.7L1085.0 73.9L1085.6 74.3ZM1109.6 77.6L1109.4 78.3L1108.6 78.8L1107.5 79.1L1106.3 79.1L1105.2 78.8L1104.4 78.3L1104.1 77.6L1104.4 77.0L1105.2 76.5L1106.3 76.2L1107.5 76.2L1108.6 76.5L1109.4 77.0ZM1128.2 70.1L1127.9 70.7L1127.0 71.1L1125.7 71.3L1124.3 71.3L1123.0 71.1L1122.1 70.7L1121.8 70.1L1122.1 69.6L1123.0 69.1L1124.3 68.9L1125.7 68.9L1127.0 69.1L1127.9 69.6ZM1146.8 74.5L1146.7 74.8L1146.5 75.1L1146.2 75.2L1145.8 75.2L1145.5 75.1L1145.3 74.8L1145.2 74.5L1145.3 74.2L1145.5 73.9L1145.8 73.8L1146.2 73.8L1146.5 73.9L1146.7 74.2ZM1190.5 93.7L1190.2 94.3L1189.6 94.8L1189.1 94.9L1188.5 94.8L1188.2 94.3L1188.1 93.6L1188.2 92.8L1188.6 92.2L1189.1 91.7L1189.7 91.6L1190.2 91.7L1190.6 92.2L1190.7 92.9ZM1187.0 107.0L1186.9 107.4L1186.5 107.8L1185.9 108.0L1185.3 108.0L1184.8 107.8L1184.4 107.4L1184.2 107.0L1184.4 106.6L1184.8 106.2L1185.3 106.0L1185.9 106.0L1186.5 106.2L1186.9 106.6ZM1216.6 86.4L1216.5 86.7L1216.2 87.0L1215.8 87.1L1215.4 87.1L1215.0 87.0L1214.7 86.7L1214.6 86.4L1214.7 86.0L1215.0 85.8L1215.4 85.6L1215.8 85.6L1216.2 85.8L1216.5 86.0ZM1208.2 66.5L1208.2 66.7L1208.0 66.9L1207.7 67.0L1207.3 67.0L1207.0 66.9L1206.8 66.7L1206.8 66.5L1206.8 66.3L1207.0 66.1L1207.3 66.0L1207.7 66.0L1208.0 66.1L1208.2 66.3ZM1178.2 66.5L1178.1 67.0L1177.5 67.4L1176.7 67.6L1175.8 67.6L1175.0 67.4L1174.4 67.0L1174.2 66.5L1174.4 66.0L1175.0 65.6L1175.8 65.4L1176.7 65.4L1177.5 65.6L1178.1 66.0ZM810.4 71.4L810.3 71.6L810.1 71.8L809.8 71.9L809.5 71.9L809.2 71.8L809.0 71.6L809.0 71.4L809.0 71.2L809.2 71.0L809.5 70.9L809.8 70.9L810.1 71.0L810.3 71.2ZM813.9 69.0L813.8 69.2L813.6 69.4L813.3 69.5L813.0 69.5L812.7 69.4L812.5 69.2L812.5 69.0L812.5 68.7L812.7 68.6L813.0 68.5L813.3 68.5L813.6 68.6L813.8 68.7ZM820.4 86.6L819.6 87.4L817.9 87.7L815.8 87.4L813.6 86.6L811.8 85.5L810.7 84.2L810.6 83.1L811.4 82.3L813.1 82.0L815.2 82.3L817.4 83.1L819.2 84.2L820.3 85.5ZM827.8 100.8L827.4 101.0L826.5 101.0L825.3 100.8L823.9 100.5L822.7 100.0L821.9 99.6L821.7 99.2L822.1 99.0L823.0 99.0L824.3 99.2L825.6 99.5L826.8 100.0L827.6 100.5ZM832.4 105.5L831.8 106.4L830.5 106.9L828.6 107.0L826.6 106.6L824.9 105.9L823.8 104.9L823.5 103.9L824.1 103.1L825.5 102.6L827.4 102.5L829.3 102.8L831.1 103.5L832.2 104.5ZM834.9 124.6L834.3 125.0L832.8 125.2L830.7 125.1L828.4 124.7L826.4 124.3L825.0 123.7L824.5 123.2L825.1 122.8L826.6 122.6L828.7 122.7L831.0 123.1L833.1 123.5L834.5 124.1ZM1044.4 946.6L1043.2 947.1L1039.7 947.4L1034.8 947.5L1029.3 947.3L1024.4 946.9L1021.0 946.3L1019.8 945.8L1021.0 945.3L1024.4 945.0L1029.4 944.9L1034.9 945.1L1039.8 945.5L1043.2 946.1Z" fill="#fff200" stroke="none"/>
<path d="M1210.5 113.3L1210.1 113.4L1209.6 113.3L1209.0 112.9L1208.5 112.3L1208.1 111.6L1208.0 111.1L1208.2 110.7L1208.6 110.6L1209.2 110.7L1209.7 111.1L1210.3 111.7L1210.6 112.4L1210.7 112.9Z" fill="#f5b42d" stroke="none"/>
<path d="M1125.3 703.1L1125.2 703.4L1125.0 703.7L1124.7 703.8L1124.4 703.8L1124.1 703.7L1123.9 703.4L1123.8 703.1L1123.9 702.8L1124.1 702.5L1124.4 702.4L1124.7 702.4L1125.0 702.5L1125.2 702.8ZM1084.9 74.8L1084.8 75.0L1084.5 75.2L1084.0 75.4L1083.5 75.4L1083.0 75.2L1082.7 75.0L1082.6 74.8L1082.7 74.5L1083.0 74.3L1083.5 74.1L1084.0 74.1L1084.5 74.3L1084.8 74.5ZM830.6 123.8L830.3 124.0L829.7 124.1L828.8 124.0L827.9 123.9L827.0 123.7L826.4 123.4L826.3 123.2L826.5 123.0L827.1 122.9L828.0 122.9L829.0 123.0L829.8 123.2L830.4 123.5Z" fill="#eb8c28" stroke="none"/>
<path d="M1135.5 692.9L1135.3 693.3L1134.8 693.6L1134.0 693.8L1133.2 693.8L1132.5 693.6L1132.0 693.3L1131.8 692.9L1132.0 692.5L1132.5 692.2L1133.2 692.0L1134.0 692.0L1134.8 692.2L1135.3 692.5ZM1155.0 80.8L1158.8 82.0L1163.1 87.0L1169.4 90.8L1175.6 92.6L1178.8 94.8L1177.8 96.8L1172.5 95.5L1166.5 93.0L1160.6 89.2L1156.2 84.5ZM1197.5 87.2L1202.5 88.5L1208.1 91.0L1212.5 92.8L1211.9 94.0L1207.5 93.8L1201.9 91.2L1197.8 88.5ZM1223.2 98.9L1222.8 99.9L1221.6 100.6L1219.9 101.1L1218.1 101.1L1216.4 100.6L1215.2 99.9L1214.8 98.9L1215.2 97.9L1216.4 97.1L1218.1 96.7L1219.9 96.7L1221.6 97.1L1222.8 97.9ZM1209.0 111.2L1208.6 111.3L1207.9 111.0L1207.2 110.4L1206.5 109.7L1206.1 108.9L1205.9 108.2L1206.0 107.8L1206.4 107.7L1207.1 108.0L1207.8 108.6L1208.5 109.3L1208.9 110.1L1209.1 110.8ZM1105.6 71.8L1105.3 72.5L1104.2 73.1L1102.7 73.5L1101.0 73.5L1099.5 73.1L1098.5 72.5L1098.1 71.8L1098.5 71.0L1099.5 70.4L1101.0 70.0L1102.7 70.0L1104.2 70.4L1105.3 71.0ZM1108.8 77.6L1108.6 78.0L1108.2 78.2L1107.6 78.4L1106.9 78.4L1106.3 78.2L1105.9 78.0L1105.8 77.6L1105.9 77.3L1106.3 77.0L1106.9 76.9L1107.6 76.9L1108.2 77.0L1108.6 77.3ZM1129.0 67.6L1128.7 68.1L1128.0 68.4L1126.9 68.6L1125.6 68.6L1124.5 68.4L1123.8 68.1L1123.5 67.6L1123.8 67.2L1124.5 66.8L1125.6 66.7L1126.9 66.7L1128.0 66.8L1128.7 67.2ZM1112.2 67.0L1112.0 67.4L1111.4 67.7L1110.5 67.9L1109.5 67.9L1108.6 67.7L1108.0 67.4L1107.8 67.0L1108.0 66.6L1108.6 66.3L1109.5 66.1L1110.5 66.1L1111.4 66.3L1112.0 66.6ZM1177.2 66.5L1177.2 66.7L1176.9 66.9L1176.5 67.0L1176.0 67.0L1175.6 66.9L1175.3 66.7L1175.2 66.5L1175.3 66.3L1175.6 66.1L1176.0 66.0L1176.5 66.0L1176.9 66.1L1177.2 66.3ZM819.4 86.3L818.8 86.9L817.4 87.1L815.7 86.9L814.0 86.3L812.5 85.4L811.7 84.3L811.6 83.4L812.3 82.8L813.6 82.5L815.3 82.8L817.0 83.4L818.5 84.3L819.3 85.3ZM831.1 105.1L830.7 105.6L829.7 106.0L828.4 106.0L827.1 105.8L825.9 105.3L825.1 104.7L824.9 104.0L825.3 103.5L826.2 103.1L827.5 103.1L828.9 103.3L830.1 103.8L830.9 104.4Z" fill="#cd0f0f" stroke="none"/>
<path d="M1156.2 82.6L1158.8 83.5L1161.2 86.4L1160.0 87.6L1157.5 85.8ZM1180.0 93.9L1185.0 94.8L1186.2 97.0L1183.1 97.6L1180.2 96.0ZM1203.8 92.0L1207.5 92.8L1208.1 94.2L1205.0 94.0Z" fill="#be32be" stroke="none"/>
<path d="M1168.8 91.0L1175.0 93.0L1178.1 95.1L1176.9 96.4L1171.9 94.8L1168.5 92.8ZM1200.0 88.5L1205.0 90.1L1206.2 92.0L1202.5 91.5L1199.8 89.8ZM1222.2 98.9L1221.9 99.5L1221.0 100.0L1219.7 100.2L1218.3 100.2L1217.0 100.0L1216.1 99.5L1215.8 98.9L1216.1 98.3L1217.0 97.8L1218.3 97.5L1219.7 97.5L1221.0 97.8L1221.9 98.3ZM1104.6 71.8L1104.4 72.2L1103.6 72.5L1102.5 72.7L1101.3 72.7L1100.2 72.5L1099.4 72.2L1099.1 71.8L1099.4 71.3L1100.2 71.0L1101.3 70.8L1102.5 70.8L1103.6 71.0L1104.4 71.3ZM1122.8 66.4L1122.5 66.8L1121.7 67.2L1120.6 67.3L1119.4 67.3L1118.3 67.2L1117.5 66.8L1117.2 66.4L1117.5 65.9L1118.3 65.6L1119.4 65.4L1120.6 65.4L1121.7 65.6L1122.5 65.9ZM818.2 85.4L817.8 85.9L816.9 86.1L815.6 86.1L814.4 85.7L813.3 85.2L812.6 84.5L812.5 83.9L812.9 83.4L813.8 83.2L815.0 83.3L816.3 83.6L817.4 84.2L818.1 84.8Z" fill="#ffc8ff" stroke="none"/>
<path d="M1148.6 76.4L1148.5 76.9L1148.2 77.3L1147.8 77.5L1147.2 77.5L1146.8 77.3L1146.5 76.9L1146.4 76.4L1146.5 75.9L1146.8 75.5L1147.2 75.3L1147.8 75.3L1148.2 75.5L1148.5 75.9Z" fill="#9dd2fb" stroke="none"/>
<path d="M1222.8 107.0L1222.7 107.4L1222.4 107.7L1222.1 107.9L1221.7 107.9L1221.3 107.7L1221.1 107.4L1221.0 107.0L1221.1 106.6L1221.3 106.3L1221.7 106.1L1222.1 106.1L1222.4 106.3L1222.7 106.6Z" fill="#9dd2fb" stroke="none"/>
<path d="M842.0 140.5L841.6 140.7L841.0 140.7L840.2 140.4L839.4 139.9L838.7 139.4L838.4 138.8L838.4 138.4L838.7 138.1L839.4 138.2L840.2 138.5L841.0 138.9L841.7 139.5L842.0 140.0Z" fill="#9dd2fb" stroke="none"/>
<path d="M622.6 129.5L622.5 129.7L622.4 129.9L622.2 130.0L622.0 130.0L621.8 129.9L621.7 129.7L621.6 129.5L621.7 129.3L621.8 129.2L622.0 129.1L622.2 129.1L622.4 129.2L622.5 129.3Z" fill="#9dd2fb" stroke="none"/>
<path d="M327.33 64V965M584.67 64V965M842.00 64V965M1099.33 64V965M70 192.67H1228M70 321.33H1228M70 450.00H1228M70 578.67H1228M70 707.33H1228M70 836.00H1228" fill="none" stroke="#000" stroke-opacity="0.07" stroke-width="1.1"/>
<path d="M295.0 330.0L286.7 330.3L280.0 331.3L275.0 334.2L271.7 336.7L266.7 338.0L261.7 339.2L256.7 337.5L253.3 336.3L249.2 337.5L245.8 335.5L244.7 338.0L240.0 339.2L235.0 341.7L230.3 342.7L229.2 345.0L225.0 346.7L220.8 350.0L216.7 355.0L211.7 358.3L206.7 360.8L201.7 363.3L196.7 365.3L191.7 367.5L188.3 370.8L185.8 375.0L184.2 380.0L182.0 384.7L179.2 385.7L177.2 384.2L176.2 380.0L176.0 375.0L177.0 370.0L177.8 367.5L175.0 367.7L172.5 370.8L170.0 375.8L167.5 380.8L165.0 385.8L164.2 388.7L165.8 392.5L167.5 396.7L166.7 401.7L167.7 406.7L165.8 411.7L162.5 415.8L160.0 420.8L158.3 425.8L157.5 430.8M207.0 340.0L208.7 338.0L210.8 338.7L211.3 341.0L209.3 343.7L207.2 343.0ZM157.3 430.0L157.1 433.3L158.8 437.1L161.7 440.4L163.3 443.3L164.2 446.7L164.6 450.0L166.7 452.5L168.8 454.6L170.4 457.9L172.1 461.7L174.2 465.0L176.7 467.9L179.2 470.0L180.4 471.7L180.0 474.2L178.3 475.4L178.8 478.3L178.3 480.8L179.6 482.9L179.2 485.0L177.5 486.7L175.4 487.5L173.8 486.2L172.1 484.2L171.2 480.0L170.8 476.7L170.4 474.6L169.2 475.0L168.8 477.5L167.9 480.0L166.7 481.7L164.6 480.0L162.9 476.7L161.2 472.9L159.6 469.2L158.8 465.8L159.6 463.8L160.8 463.3L162.1 465.0L163.8 467.5L165.4 470.0L166.7 472.5L167.5 475.8L167.9 478.8L168.5 482.1L170.4 483.3L170.8 485.4L170.0 488.3L168.3 490.8L165.8 492.1L163.8 491.7M145.0 462.9L146.7 461.9L148.2 462.9L148.8 465.8L150.0 470.0L152.1 474.2L154.6 477.1L153.8 479.3L151.2 478.3L148.8 473.3L146.7 469.2L145.0 465.8ZM151.3 443.2L152.3 443.5L151.3 447.9L150.5 452.5L149.7 457.2L148.7 456.9L149.7 452.3L150.5 447.7ZM151.2 478.8L154.2 485.0L157.5 489.2L160.8 492.1L165.0 495.8L168.3 500.8L171.7 506.7L175.8 513.8M175.8 513.7L176.7 515.0L177.5 519.2L175.8 521.7L176.3 526.7L179.2 530.8L183.3 535.0L187.5 540.0L188.7 544.2L188.0 547.5L190.8 550.8L194.2 554.2L196.7 558.3L198.3 564.2L198.0 570.0L197.5 576.7L198.3 583.3L200.0 590.0L202.5 596.7L205.8 602.5L209.2 608.3L212.5 614.2L215.8 619.2L218.0 624.2L218.3 630.0L218.0 635.0L218.3 640.0L217.5 645.0L215.8 649.2L216.3 655.0L217.2 660.0L215.8 664.2L212.8 668.0M215.7 634.2L217.0 636.7L218.0 638.3M212.8 668.0L208.3 671.7L204.2 672.2L200.8 670.8L198.7 669.2L198.0 673.3L197.8 679.2L198.3 684.2L200.0 688.3L202.0 689.7L204.2 688.7L208.3 689.7L212.5 691.7L216.7 695.0L220.8 699.2L224.2 702.5L228.3 703.3L232.5 704.2L234.7 703.3L236.7 706.3L240.0 708.0L245.0 708.0L249.2 707.5L254.2 708.0L259.2 707.5L263.3 709.2L266.7 710.8L267.5 708.7L270.8 708.0L273.3 709.3L276.3 709.0L279.2 707.5L282.5 705.8L285.8 704.2L287.5 700.8L290.8 699.2L295.0 697.5L297.5 694.2L300.0 693.0L304.2 693.7L308.3 694.2L312.5 693.0L315.8 691.7L313.3 689.2L315.0 685.8L318.3 683.0L323.3 680.3L328.3 679.5L333.3 679.7L338.3 680.0L342.5 678.8L348.3 678.3L353.3 678.0L357.2 677.5M218.0 640.0L215.8 643.3L215.0 647.5L216.7 651.7L216.3 656.7L217.0 661.7L215.0 665.8L212.8 668.0M357.2 677.5L361.7 676.3L366.7 676.7L370.0 678.3L374.2 678.7L377.5 676.7L380.0 677.5L380.8 682.0L385.0 682.0L387.5 679.7L391.7 680.0L395.8 679.2L400.8 678.7L405.8 678.0L408.3 679.2L409.7 682.0L412.5 680.8L415.0 678.7L418.3 679.7L421.7 677.5L424.2 674.2L426.7 671.7L429.2 670.0L430.8 665.8L432.5 660.8L435.0 657.0L439.2 654.7L444.2 653.7L449.2 653.0L453.3 651.3L456.7 648.7L461.7 646.7L466.7 644.7L470.8 643.3L475.0 640.8L479.2 638.3L482.5 637.0L486.7 635.8L490.0 637.2L495.0 638.0L500.0 638.3L506.7 638.0L513.3 637.5L519.2 636.3L523.3 635.0L528.3 633.3L533.3 632.5L538.3 631.2L543.3 629.3L548.3 627.5L553.3 625.0L558.3 622.5L562.5 621.3L567.2 620.8M567.2 621.0L575.0 620.2L583.3 619.5L590.0 619.0L598.3 619.3L605.0 620.0L609.2 618.3L613.3 615.8L616.7 616.3L621.7 618.7L626.7 621.3L631.7 624.2L636.7 627.2L641.7 630.3L645.0 630.3L648.3 628.7L652.5 628.3L656.7 628.8L660.0 630.8L663.3 633.3L667.5 635.0L671.7 634.7L674.2 633.0L677.5 632.5L680.0 634.2L679.2 637.5L682.5 636.7L685.0 639.2L684.2 643.3L687.5 644.2L689.2 641.7L692.5 642.0L695.0 645.0L695.8 648.3L693.3 650.0L690.0 648.3L689.2 652.5L691.7 655.0L693.3 658.0L695.8 660.8L700.0 660.8L703.3 659.7L706.7 661.7L709.2 665.8L710.8 670.8L713.3 674.2L716.7 677.5L720.0 680.8L720.8 685.0L722.5 689.2L724.2 694.2L725.8 698.3L728.3 702.5L730.8 705.8L733.3 703.3L735.0 699.2L737.5 695.8L741.7 693.3L744.2 690.0L747.5 685.8L750.8 681.7L755.0 678.3L760.0 675.8L764.2 674.2L768.3 673.3L771.7 670.8L774.2 666.7L775.8 662.5L777.5 658.3L780.0 655.0L783.3 653.3L785.8 651.7M785.8 651.6L783.8 654.8L785.0 651.9L784.4 648.1L784.0 644.4L785.0 643.1L786.9 645.6L788.8 649.4L790.0 653.8L791.9 657.5L791.2 660.0L788.1 660.6L786.2 662.5L787.5 666.2L789.4 669.4L788.8 672.5L785.6 674.4L783.1 677.5L780.6 680.6L778.8 684.4L777.2 688.1L777.5 692.5L775.2 694.0L777.1 695.6L777.2 700.0L775.6 703.8L773.1 704.8L768.8 705.0L765.6 706.0L763.8 708.8L761.5 711.9L761.0 714.0L763.1 714.8L766.2 713.1L770.0 712.5L773.8 711.2L778.1 710.6L781.9 711.2L783.8 708.8L785.6 705.0L786.9 700.0L788.1 695.0L789.4 690.6L791.0 686.9L793.1 685.0L795.0 686.9L796.9 690.6L798.8 694.4L801.2 698.1L803.8 700.6L805.0 701.9L803.8 703.8L804.0 707.5L803.1 711.2L802.2 715.0L800.0 717.5L796.9 720.0L794.0 721.9L795.0 723.8L798.1 724.4L802.5 723.5L806.2 721.9L810.0 720.0L813.1 718.8M753.1 728.1L755.6 726.2L761.2 725.0L767.5 723.5L773.8 722.2L780.0 721.9L781.9 723.1L782.5 726.2L785.6 727.5L788.1 726.0L791.2 726.2L794.0 728.1L793.1 730.2L790.6 731.2L787.8 730.0L785.0 729.4L781.9 730.6L780.6 733.1L778.1 734.8L775.6 733.1L771.9 732.5L767.5 733.5L763.1 733.8L759.4 734.8L756.9 733.8L754.4 731.9L752.8 730.0ZM813.1 718.8L816.2 718.1L818.8 716.2L821.9 714.8L825.6 716.0L826.5 719.4L825.6 723.1L823.8 724.8L821.2 724.0L819.4 721.5L821.9 719.0L824.0 720.0L823.1 722.2M813.1 718.8L816.2 720.6L820.0 723.5L825.0 727.5L830.0 732.5L833.1 738.1L836.2 743.8L838.8 748.8L839.4 751.9L837.5 755.0L834.0 757.5L835.2 761.2L836.9 765.0L840.0 768.8L843.8 771.9L847.5 775.6L850.6 780.0L854.4 783.1L858.8 785.2L863.8 786.0L868.1 786.2L872.5 788.8L876.2 791.2L878.8 794.4L881.9 796.0L884.4 793.1L887.5 791.2L892.5 791.9L897.5 793.5L900.1 793.8M817.5 720.0L821.9 723.5L826.5 727.5L831.5 732.8L834.8 738.1L837.2 743.8M900.2 793.7L905.0 794.2L909.2 795.8L913.3 797.5L918.3 800.0L923.3 802.5L928.3 804.2L933.3 806.3L936.7 804.2L940.8 800.8L945.0 798.0L950.0 795.0L954.2 792.5L958.3 790.8L962.5 790.3L965.8 793.0L969.2 794.2L973.3 795.8L975.8 797.5M962.5 790.3L960.0 788.3L957.0 789.0L954.2 787.8L958.3 785.8L963.3 783.0L968.3 780.8L970.8 781.3L972.0 784.2L972.7 787.5L971.3 791.3L969.2 794.2M978.0 792.3L980.0 791.3L982.0 792.7L981.7 795.3L979.3 796.0L977.7 794.7ZM982.0 798.0L985.0 799.2L988.3 801.7L991.7 800.8L995.0 805.0L996.7 807.5L999.2 805.8L1002.5 803.0M1002.5 803.0L1004.2 802.5L1008.3 801.7L1010.3 803.3L1009.5 806.7L1008.7 810.8L1006.7 814.2L1004.3 812.0L1003.5 808.0L1002.2 805.0L1002.5 803.0M1010.0 802.7L1016.7 801.7L1021.7 798.3L1026.7 794.2L1031.7 790.0L1036.7 786.3L1041.7 783.7L1046.7 781.7L1053.3 780.0L1060.0 779.2L1066.7 778.7L1073.3 778.3L1080.0 778.3L1086.7 777.5L1090.8 775.8L1093.3 772.5L1096.7 771.7L1099.2 769.2L1100.0 765.0L1097.5 761.7L1098.3 756.7L1100.0 751.7L1101.7 745.0L1102.5 738.3L1103.3 731.7L1104.2 726.7L1107.2 725.0M942.5 826.7L944.2 824.7L946.7 824.2L948.3 826.7L948.7 831.7L948.0 836.7L945.8 839.2L943.0 838.7L941.7 835.8L942.0 830.8ZM1042.5 831.7L1045.0 828.7L1047.5 829.2L1050.0 832.5L1053.3 835.8L1055.8 839.2L1056.7 842.5L1059.2 845.0L1060.0 847.5L1056.7 848.3L1054.2 847.5L1052.5 850.3L1050.3 847.0L1048.3 844.5L1051.7 843.7L1049.2 840.0L1046.7 836.7L1044.2 834.2ZM965.0 846.9L968.1 846.0L970.0 846.9L967.2 848.8L966.5 851.2L970.0 853.8L973.8 855.0L977.5 855.6L981.2 857.5L986.2 859.8L991.2 861.9L996.2 863.8L1001.2 865.0L1006.2 865.6L1011.2 865.2L1015.0 864.0L1018.1 863.1L1020.0 865.0L1022.5 862.5L1026.2 861.2L1030.0 860.0L1033.1 861.2L1035.6 859.0L1038.8 857.2L1041.9 857.5L1045.0 858.1L1046.9 855.6L1049.4 855.0L1052.5 856.5L1055.0 858.8L1056.9 861.9L1057.2 866.2L1056.2 870.0L1056.9 873.8L1056.2 877.5L1055.6 881.2L1055.0 885.0L1056.9 888.1L1057.5 891.9L1056.2 895.6L1054.4 895.0L1054.4 891.2L1053.1 888.1L1051.9 889.4L1050.0 893.1L1048.1 896.2L1047.5 900.0L1050.0 902.5L1051.9 903.8L1050.6 906.2L1048.8 907.5L1046.9 910.0L1048.1 913.1L1047.5 916.2L1046.2 918.8L1043.1 919.4L1041.2 916.9L1040.0 913.8L1038.8 910.6L1036.9 909.4L1035.0 910.6L1033.8 913.8L1033.1 917.5L1031.9 921.2L1030.6 924.4L1028.8 926.2L1026.2 925.6L1025.0 922.5L1024.4 918.8L1023.1 916.9L1021.9 920.0L1021.2 923.8L1020.6 927.5L1018.8 929.4L1015.0 928.8L1011.2 927.2L1007.5 926.5L1003.8 926.9L1000.0 926.2L997.5 925.0L996.2 921.9L994.4 919.4L991.9 916.2L989.4 913.1L986.9 910.0L984.4 906.9L981.9 903.1L979.4 898.8L977.5 895.0L976.2 891.9L975.0 888.1L973.1 884.4L971.2 880.6L969.4 876.9L967.5 873.1L965.6 869.4L963.8 865.6L962.5 861.2L962.2 857.5L963.1 853.1L963.8 849.4ZM1016.9 863.8L1018.8 865.2L1021.0 864.8M1053.1 888.1L1054.4 886.2L1056.2 890.0L1055.6 893.8M1046.2 901.2L1048.8 901.9L1050.6 904.0M1107.2 725.0L1107.5 721.7L1110.0 716.7L1112.5 713.3L1115.8 711.7L1118.3 708.3L1120.0 703.3L1120.8 698.3L1121.7 694.2L1123.3 689.2L1125.8 685.0L1129.2 682.0L1131.7 678.3L1133.0 674.2L1132.0 670.8L1134.2 668.3L1136.7 665.0L1139.2 662.5L1141.7 659.2L1144.2 655.0L1147.5 652.0L1150.8 650.3L1154.2 648.7L1156.7 647.0L1160.0 644.2L1163.3 641.7L1165.0 639.2L1164.2 635.0L1165.8 630.8L1168.3 627.5L1171.7 623.3L1173.3 619.2L1174.7 615.0L1175.8 610.0L1177.0 605.8L1178.3 601.7L1177.0 597.5L1177.5 592.5L1179.2 587.5L1180.8 583.3L1182.5 578.3L1183.7 574.2L1185.0 570.0M1185.0 570.0L1185.3 563.3L1186.7 557.5L1189.2 552.5L1191.7 549.2L1193.0 545.0L1191.7 540.0L1192.0 535.0L1190.0 530.0L1187.5 526.7L1187.0 521.7L1185.8 516.7L1183.3 512.5L1180.8 509.2L1178.3 506.7L1179.2 504.2L1181.3 503.3L1180.8 498.3L1180.0 493.3L1179.2 488.3L1178.7 483.3L1179.7 478.3L1180.8 474.2L1178.3 474.2L1176.7 470.0L1174.7 465.8L1174.2 461.7L1175.8 457.5L1173.3 456.7L1170.0 455.8L1166.7 453.7L1164.2 450.8L1163.3 446.7L1160.8 443.3L1157.5 441.7L1154.2 439.2L1151.7 435.8L1150.0 431.7L1148.3 427.5L1145.0 425.8L1141.7 425.0L1139.2 425.8L1136.7 422.5L1134.2 419.2L1131.7 415.8L1130.0 412.5L1128.3 410.0M1180.8 445.0L1183.3 441.7L1185.0 442.5L1185.3 449.2L1183.3 455.0L1180.8 460.0L1179.2 465.0L1178.0 469.2L1176.7 468.3L1177.5 463.3L1179.2 458.3L1180.8 453.3L1182.5 449.2L1182.0 445.8ZM1186.3 502.5L1188.7 501.7L1189.3 507.5L1191.0 512.0L1190.0 517.5L1188.3 521.3L1187.3 518.3L1188.0 513.3L1187.0 508.3ZM995.8 250.0L998.0 253.3L999.7 257.5L1000.0 262.5L999.2 266.7L998.0 270.8L997.0 275.0L999.2 277.5L1001.7 275.0L1004.2 276.7L1004.7 280.8L1003.0 283.3L1003.7 287.5L1004.7 291.7L1007.5 295.8L1010.8 298.3L1015.0 300.0L1018.3 298.3L1020.8 300.8L1023.3 303.3L1026.7 305.0L1030.0 305.8L1033.3 304.2L1035.8 307.5L1037.0 312.5L1038.3 315.8L1041.7 314.2L1045.0 315.8L1048.3 317.5L1051.7 318.3L1055.0 320.0L1056.7 324.2L1059.2 325.8L1060.8 321.7L1064.2 324.2L1067.5 326.7L1070.0 329.2L1069.2 332.5L1065.8 334.2L1065.3 337.5L1067.5 340.8L1070.0 343.3L1073.3 345.0L1076.7 346.7L1079.2 350.0L1080.8 354.2L1082.5 358.3L1085.0 360.8L1085.8 365.0L1085.0 369.2L1086.7 373.3L1088.3 378.3L1090.8 382.5L1093.3 383.3L1095.8 380.8L1096.7 375.0L1098.3 381.7L1099.7 386.7L1100.8 389.2L1099.2 383.3L1098.0 377.5L1100.0 375.8L1103.3 378.3L1107.5 381.7L1110.8 385.0L1114.2 387.5L1112.5 381.7L1113.3 378.3L1116.7 381.7L1119.2 385.0L1120.8 390.0L1120.0 395.0L1119.2 400.0L1120.8 405.0L1121.7 410.0L1124.2 412.5L1127.5 410.8L1130.0 411.7L1132.5 415.0L1134.2 417.5M875.8 228.0L877.5 220.0L880.0 210.0L882.5 201.7L885.0 193.3L883.3 186.7L882.0 180.0L882.5 173.3L881.7 168.3L880.0 163.3L880.8 158.3L882.5 153.3L885.0 148.3L884.2 143.3L883.3 139.2L885.8 136.7L889.2 135.8L891.3 138.7L890.0 133.3L893.0 132.0L890.0 131.3L887.5 130.8L883.3 129.2L885.0 125.0L887.5 121.7L889.2 118.3L892.0 117.5L893.7 115.8L891.7 115.0L892.5 111.7L894.2 106.7L895.3 101.7L896.7 96.7L897.5 91.7L898.3 87.5L900.8 85.0L904.2 82.5L907.5 81.7L909.2 84.2L907.5 86.7L910.8 87.5L913.3 90.8L915.0 95.8L915.8 101.7L916.7 107.5L917.5 111.7L920.8 113.7L925.0 114.2L923.3 117.5L921.7 121.7L924.2 124.2L927.5 126.7L930.0 130.8L930.8 135.8L929.2 137.0L932.5 137.5L933.3 143.3L934.2 150.0L935.0 155.0L934.2 160.0L935.8 165.0L937.5 170.0L939.2 175.0L941.7 178.3L945.0 179.2L948.3 177.5L950.8 174.2L954.2 174.2L957.5 171.3L960.0 173.3L960.8 177.5L964.2 180.0L967.5 182.5L970.8 185.8L974.2 187.5L977.5 189.2L979.7 191.7L978.3 195.8L979.2 200.0L978.3 204.2L980.0 210.0L981.7 215.0L983.3 220.0L982.5 225.0L981.7 228.0L983.3 232.5L986.2 235.8L989.2 238.7L991.7 240.8L995.3 240.8L993.3 243.3L994.5 246.7L996.2 250.0M896.7 80.8L899.2 79.2L901.7 80.3L900.3 83.0L897.7 83.3ZM690.0 112.9L692.1 115.8L693.8 116.7L696.7 115.8L700.0 116.7L703.3 116.2L706.7 114.2L710.0 117.5L712.5 119.2L715.0 121.7L718.3 122.1L721.7 120.8L724.2 118.3L726.7 116.7L729.2 115.0L732.5 113.3L735.0 110.8L737.5 107.9L740.0 106.2M747.5 115.8L750.0 114.2L751.7 110.8L754.2 109.2L753.3 111.7L754.2 115.0L755.8 117.5L756.7 120.0L759.2 118.3L760.8 120.0L762.5 122.5L764.2 124.2L761.7 125.8L759.2 127.5L758.3 130.8L755.8 133.3L752.5 135.0L753.3 138.3L755.0 140.8L753.3 143.3L750.8 145.8L748.3 148.3L747.5 145.0L745.0 143.3L741.7 145.0L738.3 146.7L736.2 149.2L735.4 152.5L735.0 155.8L736.2 158.8L738.3 161.2L740.0 163.3M746.7 118.3L748.3 116.7L747.5 115.8M740.0 160.0L739.2 162.5L737.5 166.7L735.0 171.7L731.7 175.8L728.3 180.0L725.0 184.2L723.3 185.8L725.0 190.8L728.3 194.2L732.5 197.5L736.7 200.8L741.7 204.2L746.7 207.5L750.8 209.2L753.3 206.7L756.7 208.3L755.8 212.5L758.3 215.8L762.5 216.7L765.8 215.0L767.0 211.7L765.0 208.3L761.7 206.7L763.3 210.0L760.8 212.5L768.3 215.8L773.3 219.2L778.3 222.5L783.3 225.0L786.7 227.5M748.3 171.7L750.8 166.7L751.7 161.7L754.2 159.2L757.5 158.3L759.2 160.8L762.5 160.8L763.3 164.2L760.8 166.7L761.7 170.0L764.2 170.8L764.2 174.2L760.8 174.7L756.7 173.3L752.5 173.0L748.3 173.3ZM786.7 227.5L790.0 231.7L794.2 235.0L798.3 237.0L803.3 238.0L807.5 238.3L811.7 239.7L816.7 241.3L819.2 242.5L819.7 245.8L820.8 250.0L823.3 252.5L827.5 254.2L831.7 256.7L836.7 259.2L840.8 261.7L844.2 263.0L848.3 262.5L853.3 261.3L858.3 259.2L862.5 256.7L865.0 253.3L866.3 249.2L867.5 244.2L870.0 240.0L872.5 235.8L874.7 230.8L875.8 228.0M819.2 240.0L820.8 235.0L823.3 231.7L827.5 229.7L831.7 228.7L835.3 229.7L835.8 231.7L832.5 232.5L830.0 234.2L827.5 236.3L824.2 237.5L821.7 239.2ZM690.8 113.7L689.2 111.7L685.0 110.0L680.8 109.2L676.7 108.3L672.5 105.8L669.2 107.5L665.8 105.0L662.5 100.8L659.2 97.5L655.8 100.0L653.3 97.5L652.5 92.5L651.7 89.2L649.2 92.5L646.7 95.0L644.2 94.2L641.7 96.7L639.2 95.8L636.7 94.2L633.3 95.0L630.8 97.0L634.2 99.2L637.5 100.8L640.0 102.5L643.3 101.7L646.7 100.8L650.0 103.3L652.5 107.5L653.3 112.5L652.5 116.7L655.8 118.7L651.7 119.2L648.3 118.3L647.5 124.2L644.2 120.8L640.8 122.0L636.7 123.3L631.7 123.7L626.7 123.3L621.7 122.5L619.2 118.3L616.7 119.2L614.2 120.0L611.7 120.8L610.8 124.2L609.2 126.7L606.7 125.8L604.2 125.0L601.7 125.8L600.0 128.3L599.2 131.7L595.8 133.3L593.3 136.7L590.8 138.3L589.2 141.7L590.0 145.8L593.3 150.0L589.2 151.7L585.0 153.3L581.7 155.8L580.0 160.0L579.2 164.2L576.7 167.5L572.5 169.2L571.7 172.5L569.2 175.8L570.0 179.2L573.3 180.8L578.3 181.3L575.8 184.2L579.2 186.7L584.2 186.7L584.2 187.7L578.3 189.2L575.0 191.7L577.5 195.8L576.7 198.3L574.2 195.8L572.5 190.8L570.8 188.3L567.5 189.2L565.0 191.7L564.7 195.8L563.7 198.3L563.0 194.2L562.5 190.0L559.2 188.3L554.2 187.5L549.2 187.0L545.0 187.5L544.2 191.7L542.5 193.3L540.8 189.2L539.2 191.7L540.0 196.7L540.8 202.5L538.3 199.2L536.7 203.3L534.2 205.8L535.0 200.8L536.7 195.8L537.5 190.8L538.3 185.8L535.8 183.3L532.5 180.0L529.2 175.8L525.8 171.7L522.5 169.2L520.0 167.5M585.8 110.0L587.5 106.7L590.0 103.3L591.7 99.2L594.2 95.0L595.8 93.3L598.3 95.8L600.8 98.3L604.2 97.5L608.3 95.8L612.5 95.3L616.7 94.7L620.0 95.8L623.3 97.5L624.2 100.8L622.5 104.2L620.0 106.7L617.5 109.2L614.2 110.8L610.8 112.5L608.3 111.7L605.0 110.0L602.5 107.5L600.0 105.0L598.3 102.5L597.0 100.8L596.0 105.0L597.7 108.3L595.0 109.7L590.8 109.2L588.3 110.3ZM595.8 94.2L596.3 99.2L597.0 100.8M522.5 169.2L520.0 167.5L516.7 165.0L513.3 164.2L510.0 162.5L506.7 160.0L502.5 160.8L500.8 164.2L502.5 165.8L499.2 167.5L496.7 170.8L495.0 167.5L496.7 164.2L493.3 165.8L490.0 169.2L488.3 171.7L486.7 168.3L485.8 165.0L483.3 164.2L481.7 166.7L484.2 170.0L482.5 174.2L484.2 177.5L481.7 180.0L479.2 182.5L477.5 179.2L475.0 177.5L473.3 173.3L470.8 175.0L472.5 178.3L469.2 180.0L465.8 180.8L462.5 180.0L460.0 178.3L459.2 181.7L461.7 184.2L460.8 187.5L463.3 190.8L466.7 192.5L466.7 195.8L463.3 195.0L460.8 193.3L458.3 192.5L455.8 191.7L453.3 193.3L455.8 196.7L458.3 200.0L460.8 202.5L460.8 205.8L457.5 204.2L455.0 201.7L452.5 200.0L449.2 201.7L445.8 200.8L442.5 199.2L439.2 200.8L441.7 203.3L440.0 207.5L441.7 211.7L444.2 213.3L447.5 213.3L446.7 216.7L444.2 219.2L442.5 222.5L440.8 225.8L444.2 226.7L448.3 227.5L453.3 229.2L448.3 228.7L444.2 228.3L440.0 228.3L437.5 227.5L435.0 225.0L431.7 224.2L429.2 225.8L426.7 224.2L424.2 221.7L420.8 222.0L419.2 225.0L420.0 228.3L417.5 230.0L415.8 232.0L418.3 234.2L420.0 237.5L422.5 239.2L425.8 240.0L429.2 239.2L426.7 242.0L425.0 245.0L427.5 247.5L428.3 250.0L425.0 247.5L422.5 245.0L420.0 245.3L419.2 249.2L420.0 254.2L419.5 259.2L417.5 254.2L415.0 249.2L412.5 244.2L410.0 239.2L407.5 234.2L405.8 230.0L404.2 228.3L401.7 230.0L400.0 233.3L397.5 236.7L395.8 239.2L392.5 240.8L390.0 243.3L387.5 245.0L385.0 248.3L383.3 252.5L382.5 257.5L383.3 262.5L384.2 266.7L386.7 270.0L387.5 272.5L385.0 275.0L381.7 277.5L380.0 279.2M295.0 328.8L301.2 322.5L306.2 320.0L311.2 321.2L316.2 323.0L320.0 320.5L327.5 319.0L335.0 317.5L342.5 315.0L350.0 311.8L357.5 307.5L363.8 301.2L367.5 295.0L370.0 287.5L373.8 281.2L380.0 279.2M327.5 63.8L329.4 67.5L333.1 70.0L337.5 71.2L339.8 72.2L341.9 70.6L345.6 69.4L348.8 66.9L350.0 63.8M366.9 80.0L370.0 78.8L373.1 76.2L376.2 74.8L378.8 75.2L379.0 77.5L376.9 79.4L373.8 79.8L370.6 79.4L368.1 80.6ZM400.0 84.4L402.5 82.5L406.2 81.2L410.0 78.8L413.1 76.2L415.6 75.6L416.2 78.8L415.6 81.9L412.5 83.8L408.8 85.6L405.0 86.9L401.9 88.1L400.0 86.9Z" fill="none" stroke="#000" stroke-width="1.95" stroke-linejoin="round" stroke-linecap="round"/>
<path d="M164.5 539.0L166.0 537.7L167.3 538.3L165.8 540.0ZM210.0 630.0L212.0 629.3L213.7 630.3L212.3 631.7L210.3 631.3ZM215.3 644.2L217.0 643.0L219.0 644.7L219.3 647.5L217.7 650.0L215.7 650.8L214.7 647.5ZM699.7 675.3L701.0 673.7L702.7 674.3L701.7 676.3ZM742.5 707.5L743.8 706.7L744.7 708.3L743.3 709.3ZM750.5 711.7L751.7 710.5L752.8 711.7L751.7 712.8ZM741.9 706.9L743.1 706.2L744.4 708.1L743.5 709.4L742.2 708.5ZM750.0 711.0L751.5 710.0L752.8 711.2L751.8 712.5L750.4 712.2ZM975.3 793.3L976.7 790.8L979.7 789.7L982.5 790.3L984.7 792.7L984.2 795.8L982.0 798.0L978.7 798.3L976.3 797.0ZM976.5 892.2L980.2 894.0L984.5 895.8L983.2 900.0L981.2 897.8L978.8 895.0ZM967.8 852.8L970.0 851.9L972.2 853.5L971.2 855.2L969.0 855.0ZM975.6 853.8L977.5 852.8L979.0 854.4L977.5 856.0ZM1011.0 288.7L1012.7 287.3L1014.3 288.7L1013.0 290.3ZM1071.3 323.3L1073.3 322.0L1074.7 325.0L1075.3 328.3L1073.7 330.0L1072.0 327.5ZM1074.7 333.8L1076.2 332.8L1077.3 334.2L1076.0 335.3ZM1106.0 364.0L1107.7 363.3L1109.3 365.8L1107.7 367.0ZM896.7 66.7L898.7 65.3L901.7 66.7L902.7 69.2L900.3 70.7L897.7 69.3ZM743.3 106.5L747.5 104.3L751.7 100.6L755.0 96.4L757.5 92.7L758.8 90.2L757.7 89.8L756.2 92.5L754.0 96.0L750.8 99.8L746.8 103.3L743.0 105.4L743.3 106.5M714.2 113.5L715.0 112.7L716.0 113.3L715.2 114.3ZM742.0 160.0L744.2 158.7L746.3 160.3L745.3 163.0L742.7 163.0ZM731.3 189.2L732.7 188.0L734.0 189.3L732.7 190.7ZM828.0 245.8L829.2 244.3L830.7 245.3L830.3 247.0L828.7 247.3ZM600.3 127.5L602.5 125.7L605.3 126.3L607.0 125.3L609.7 127.0L610.7 129.7L609.0 132.3L606.3 133.0L605.0 131.0L603.3 133.3L601.0 132.0ZM413.5 68.8L415.6 67.5L417.8 68.5L418.1 71.0L416.2 72.5L414.0 72.2L413.0 70.5ZM419.0 126.2L420.0 125.5L420.8 126.8L419.8 127.8ZM1119.4 78.3L1122.4 76.9L1126.0 77.6L1127.5 79.8L1125.3 81.4L1121.6 81.4L1119.4 80.2ZM1164.2 79.8L1167.8 78.6L1172.2 79.1L1174.4 80.8L1172.2 82.7L1167.8 82.9L1164.6 81.7ZM1202.3 98.4L1205.2 96.7L1208.9 97.0L1211.1 99.0L1209.2 101.3L1205.2 101.8L1202.7 100.5ZM1179.6 95.9L1183.2 96.7L1187.6 99.3L1192.0 101.3L1196.4 103.3L1197.4 105.2L1195.0 106.2L1190.6 105.5L1186.2 103.3L1182.5 100.3L1179.9 98.1ZM1098.5 221.9L1099.3 221.1L1100.3 221.9L1099.4 223.3ZM1096.9 242.5L1098.3 241.9L1100.0 243.3L1098.1 243.6ZM1044.9 230.3L1045.3 229.7L1045.8 230.6L1045.1 231.0ZM1058.8 261.9L1059.2 261.1L1059.7 262.1L1059.2 262.5ZM1061.1 266.7L1061.5 266.1L1062.1 266.9L1061.5 267.4ZM1211.0 347.0L1212.0 346.0L1213.0 347.0L1212.0 348.0ZM1190.2 370.0L1191.2 369.0L1192.2 370.0L1191.2 371.0ZM1195.4 363.0L1196.2 362.2L1197.0 363.0L1196.2 363.8ZM487.0 166.7L486.2 168.7L484.2 169.5L482.2 168.7L481.3 166.7L482.2 164.7L484.2 163.8L486.2 164.7ZM474.5 174.2L473.9 175.6L472.5 176.2L471.1 175.6L470.5 174.2L471.1 172.8L472.5 172.2L473.9 172.8ZM462.3 180.0L461.6 181.6L460.0 182.3L458.4 181.6L457.7 180.0L458.4 178.4L460.0 177.7L461.6 178.4ZM465.8 190.0L465.1 191.8L463.3 192.5L461.6 191.8L460.8 190.0L461.6 188.2L463.3 187.5L465.1 188.2ZM457.7 192.5L456.9 194.4L455.0 195.2L453.1 194.4L452.3 192.5L453.1 190.6L455.0 189.8L456.9 190.6ZM455.8 197.5L455.1 199.3L453.3 200.0L451.6 199.3L450.8 197.5L451.6 195.7L453.3 195.0L455.1 195.7ZM460.5 201.7L459.9 203.2L458.3 203.8L456.8 203.2L456.2 201.7L456.8 200.1L458.3 199.5L459.9 200.1ZM446.3 200.8L445.5 203.0L443.3 203.8L441.2 203.0L440.3 200.8L441.2 198.7L443.3 197.8L445.5 198.7ZM448.5 214.2L448.0 215.5L446.7 216.0L445.4 215.5L444.8 214.2L445.4 212.9L446.7 212.3L448.0 212.9ZM445.8 219.2L445.3 220.3L444.2 220.8L443.0 220.3L442.5 219.2L443.0 218.0L444.2 217.5L445.3 218.0ZM423.0 223.3L422.4 224.9L420.8 225.5L419.3 224.9L418.7 223.3L419.3 221.8L420.8 221.2L422.4 221.8ZM420.5 230.0L419.9 231.5L418.3 232.2L416.8 231.5L416.2 230.0L416.8 228.5L418.3 227.8L419.9 228.5ZM498.5 166.7L498.0 168.0L496.7 168.5L495.4 168.0L494.8 166.7L495.4 165.4L496.7 164.8L498.0 165.4ZM480.2 180.8L479.6 182.1L478.3 182.7L477.0 182.1L476.5 180.8L477.0 179.5L478.3 179.0L479.6 179.5ZM469.8 179.2L469.4 180.2L468.3 180.7L467.3 180.2L466.8 179.2L467.3 178.1L468.3 177.7L469.4 178.1ZM467.0 194.2L466.4 195.6L465.0 196.2L463.6 195.6L463.0 194.2L463.6 192.8L465.0 192.2L466.4 192.8ZM450.8 199.2L450.3 200.3L449.2 200.8L448.0 200.3L447.5 199.2L448.0 198.0L449.2 197.5L450.3 198.0ZM461.5 185.0L461.1 186.1L460.0 186.5L458.9 186.1L458.5 185.0L458.9 183.9L460.0 183.5L461.1 183.9ZM489.7 171.2L489.3 172.2L488.3 172.6L487.4 172.2L487.0 171.2L487.4 170.3L488.3 169.9L489.3 170.3ZM503.0 164.2L502.6 165.1L501.7 165.5L500.7 165.1L500.3 164.2L500.7 163.2L501.7 162.8L502.6 163.2ZM1120.7 708.5L1120.2 709.7L1119.1 710.2L1117.9 709.7L1117.5 708.5L1117.9 707.4L1119.1 706.9L1120.2 707.4ZM1121.5 695.5L1121.1 696.2L1120.4 696.5L1119.6 696.2L1119.3 695.5L1119.6 694.7L1120.4 694.4L1121.1 694.7ZM1130.0 681.3L1129.6 682.2L1128.7 682.5L1127.8 682.2L1127.5 681.3L1127.8 680.4L1128.7 680.0L1129.6 680.4ZM1106.4 725.5L1106.1 726.1L1105.5 726.4L1104.8 726.1L1104.5 725.5L1104.8 724.8L1105.5 724.5L1106.1 724.8ZM1102.2 733.6L1102.0 734.2L1101.5 734.4L1100.9 734.2L1100.7 733.6L1100.9 733.1L1101.5 732.9L1102.0 733.1ZM1098.5 760.0L1098.3 760.5L1097.8 760.7L1097.3 760.5L1097.1 760.0L1097.3 759.5L1097.8 759.3L1098.3 759.5ZM1134.2 671.5L1133.8 672.5L1132.7 672.9L1131.7 672.5L1131.3 671.5L1131.7 670.4L1132.7 670.0L1133.8 670.4ZM1155.7 648.3L1155.2 649.4L1154.2 649.8L1153.1 649.4L1152.7 648.3L1153.1 647.3L1154.2 646.8L1155.2 647.3ZM1134.0 670.8L1133.6 671.9L1132.5 672.3L1131.4 671.9L1131.0 670.8L1131.4 669.8L1132.5 669.3L1133.6 669.8ZM1131.0 681.3L1130.6 682.3L1129.7 682.7L1128.7 682.3L1128.3 681.3L1128.7 680.4L1129.7 680.0L1130.6 680.4ZM1139.3 663.3L1139.0 664.0L1138.3 664.3L1137.6 664.0L1137.3 663.3L1137.6 662.6L1138.3 662.3L1139.0 662.6ZM1121.7 694.2L1121.4 694.8L1120.8 695.0L1120.2 694.8L1120.0 694.2L1120.2 693.6L1120.8 693.3L1121.4 693.6ZM1028.5 920.0L1027.8 921.6L1026.2 922.2L1024.7 921.6L1024.0 920.0L1024.7 918.4L1026.2 917.8L1027.8 918.4ZM1032.0 915.0L1031.4 916.4L1030.0 917.0L1028.6 916.4L1028.0 915.0L1028.6 913.6L1030.0 913.0L1031.4 913.6ZM1034.2 910.0L1033.7 911.2L1032.5 911.8L1031.3 911.2L1030.8 910.0L1031.3 908.8L1032.5 908.2L1033.7 908.8ZM1044.5 915.0L1043.9 916.4L1042.5 917.0L1041.1 916.4L1040.5 915.0L1041.1 913.6L1042.5 913.0L1043.9 913.6ZM1047.1 912.5L1046.7 913.6L1045.6 914.0L1044.6 913.6L1044.1 912.5L1044.6 911.4L1045.6 911.0L1046.7 911.4ZM1051.8 903.1L1051.2 904.4L1050.0 904.9L1048.8 904.4L1048.2 903.1L1048.8 901.9L1050.0 901.4L1051.2 901.9ZM1057.4 893.1L1056.9 894.4L1055.6 894.9L1054.4 894.4L1053.9 893.1L1054.4 891.9L1055.6 891.4L1056.9 891.9ZM1055.0 888.1L1054.6 889.0L1053.8 889.4L1052.9 889.0L1052.5 888.1L1052.9 887.2L1053.8 886.9L1054.6 887.2ZM1000.5 920.6L1000.0 921.9L998.8 922.4L997.5 921.9L997.0 920.6L997.5 919.4L998.8 918.9L1000.0 919.4ZM996.2 918.8L995.9 919.6L995.0 920.0L994.1 919.6L993.8 918.8L994.1 917.9L995.0 917.5L995.9 917.9ZM981.5 895.6L981.1 896.7L980.0 897.1L978.9 896.7L978.5 895.6L978.9 894.6L980.0 894.1L981.1 894.6ZM1057.8 845.0L1057.3 846.1L1056.2 846.5L1055.2 846.1L1054.8 845.0L1055.2 843.9L1056.2 843.5L1057.3 843.9ZM1054.0 849.4L1053.6 850.4L1052.5 850.9L1051.4 850.4L1051.0 849.4L1051.4 848.3L1052.5 847.9L1053.6 848.3ZM892.7 116.7L892.3 117.6L891.3 118.0L890.4 117.6L890.0 116.7L890.4 115.7L891.3 115.3L892.3 115.7ZM892.5 134.2L892.0 135.3L890.8 135.8L889.7 135.3L889.2 134.2L889.7 133.0L890.8 132.5L892.0 133.0ZM885.3 128.7L885.0 129.5L884.2 129.8L883.3 129.5L883.0 128.7L883.3 127.8L884.2 127.5L885.0 127.8ZM673.8 103.7L673.4 104.6L672.5 105.0L671.6 104.6L671.2 103.7L671.6 102.7L672.5 102.3L673.4 102.7ZM715.3 114.2L715.0 115.0L714.2 115.3L713.3 115.0L713.0 114.2L713.3 113.3L714.2 113.0L715.0 113.3ZM735.5 113.0L735.1 113.9L734.2 114.3L733.2 113.9L732.8 113.0L733.2 112.1L734.2 111.7L735.1 112.1ZM739.5 109.2L739.2 110.0L738.3 110.3L737.5 110.0L737.2 109.2L737.5 108.3L738.3 108.0L739.2 108.3ZM744.7 106.7L744.3 107.6L743.3 108.0L742.4 107.6L742.0 106.7L742.4 105.7L743.3 105.3L744.3 105.7ZM743.0 120.8L742.6 121.8L741.7 122.2L740.7 121.8L740.3 120.8L740.7 119.9L741.7 119.5L742.6 119.9ZM746.2 160.8L745.6 162.2L744.2 162.8L742.8 162.2L742.2 160.8L742.8 159.4L744.2 158.8L745.6 159.4ZM652.8 90.0L652.5 90.8L651.7 91.2L650.8 90.8L650.5 90.0L650.8 89.2L651.7 88.8L652.5 89.2ZM644.7 95.8L644.3 96.8L643.3 97.2L642.4 96.8L642.0 95.8L642.4 94.9L643.3 94.5L644.3 94.9ZM636.2 96.3L635.8 97.2L635.0 97.5L634.2 97.2L633.8 96.3L634.2 95.5L635.0 95.2L635.8 95.5ZM650.3 98.3L650.0 99.2L649.2 99.5L648.3 99.2L648.0 98.3L648.3 97.5L649.2 97.2L650.0 97.5ZM591.0 104.2L590.7 104.9L590.0 105.2L589.3 104.9L589.0 104.2L589.3 103.5L590.0 103.2L590.7 103.5ZM604.2 97.0L603.9 97.6L603.3 97.8L602.7 97.6L602.5 97.0L602.7 96.4L603.3 96.2L603.9 96.4ZM619.3 95.8L619.0 96.5L618.3 96.8L617.6 96.5L617.3 95.8L617.6 95.1L618.3 94.8L619.0 95.1ZM542.0 191.7L541.7 192.5L540.8 192.8L540.0 192.5L539.7 191.7L540.0 190.8L540.8 190.5L541.7 190.8ZM538.7 198.3L538.3 199.2L537.5 199.5L536.7 199.2L536.3 198.3L536.7 197.5L537.5 197.2L538.3 197.5ZM578.7 186.7L578.3 187.5L577.5 187.8L576.7 187.5L576.3 186.7L576.7 185.8L577.5 185.5L578.3 185.8ZM565.2 193.3L564.9 194.0L564.2 194.3L563.5 194.0L563.2 193.3L563.5 192.6L564.2 192.3L564.9 192.6ZM737.8 118.7L737.5 119.5L736.7 119.8L735.8 119.5L735.5 118.7L735.8 117.8L736.7 117.5L737.5 117.8ZM733.7 115.8L733.3 116.7L732.5 117.0L731.7 116.7L731.3 115.8L731.7 115.0L732.5 114.7L733.3 115.0ZM1004.2 278.3L1003.7 279.5L1002.5 280.0L1001.3 279.5L1000.8 278.3L1001.3 277.2L1002.5 276.7L1003.7 277.2ZM1018.7 299.2L1018.3 300.0L1017.5 300.3L1016.7 300.0L1016.3 299.2L1016.7 298.3L1017.5 298.0L1018.3 298.3ZM1022.7 300.0L1022.4 300.7L1021.7 301.0L1021.0 300.7L1020.7 300.0L1021.0 299.3L1021.7 299.0L1022.4 299.3ZM1034.3 303.7L1034.0 304.4L1033.3 304.7L1032.6 304.4L1032.3 303.7L1032.6 303.0L1033.3 302.7L1034.0 303.0ZM1042.8 314.2L1042.5 315.0L1041.7 315.3L1040.8 315.0L1040.5 314.2L1040.8 313.3L1041.7 313.0L1042.5 313.3ZM1061.5 323.3L1061.1 324.4L1060.0 324.8L1058.9 324.4L1058.5 323.3L1058.9 322.3L1060.0 321.8L1061.1 322.3ZM1069.7 333.3L1069.3 334.3L1068.3 334.7L1067.4 334.3L1067.0 333.3L1067.4 332.4L1068.3 332.0L1069.3 332.4ZM1114.2 380.8L1113.7 382.0L1112.5 382.5L1111.3 382.0L1110.8 380.8L1111.3 379.7L1112.5 379.2L1113.7 379.7ZM1117.3 383.3L1116.9 384.4L1115.8 384.8L1114.8 384.4L1114.3 383.3L1114.8 382.3L1115.8 381.8L1116.9 382.3ZM1093.8 383.3L1093.4 384.3L1092.5 384.7L1091.6 384.3L1091.2 383.3L1091.6 382.4L1092.5 382.0L1093.4 382.4ZM1130.0 411.7L1129.5 412.8L1128.3 413.3L1127.2 412.8L1126.7 411.7L1127.2 410.5L1128.3 410.0L1129.5 410.5ZM1056.4 846.0L1055.4 848.3L1053.1 849.2L1050.8 848.3L1049.9 846.0L1050.8 843.7L1053.1 842.8L1055.4 843.7ZM1059.1 847.0L1058.5 848.6L1056.9 849.2L1055.3 848.6L1054.6 847.0L1055.3 845.4L1056.9 844.8L1058.5 845.4ZM1053.0 849.5L1052.5 850.7L1051.2 851.2L1050.0 850.7L1049.5 849.5L1050.0 848.3L1051.2 847.8L1052.5 848.3ZM1055.9 842.5L1055.4 843.6L1054.4 844.0L1053.3 843.6L1052.9 842.5L1053.3 841.4L1054.4 841.0L1055.4 841.4Z" fill="#000" stroke="#000" stroke-width="0.9" stroke-linejoin="round" stroke-linecap="round"/>
<path d="M155.0 475.7L157.5 476.7L159.2 480.0L161.7 483.3L163.8 486.7L164.6 490.0L163.8 491.7L161.7 489.6L159.6 486.7L157.5 483.3L155.4 480.0L153.8 477.5M155.0 478.3L157.5 481.7L159.6 484.6L162.1 488.3L163.3 490.8M153.3 480.0L155.8 484.2L158.8 487.5L161.7 490.8M716.3 696.7L718.3 693.3L720.3 695.0L719.7 697.5L722.5 696.7L724.2 698.7L725.8 696.7M735.0 703.3L737.0 700.3L739.2 702.5L738.3 705.8L740.0 707.0M735.0 701.2L737.2 698.8L738.8 700.6L737.5 703.8L739.0 706.2L741.0 705.6M994.4 919.4L997.5 920.0L1000.6 920.6L1002.5 922.2L1000.0 923.1L997.8 921.9M1027.5 918.8L1029.4 916.2L1031.2 913.1L1030.0 909.4L1031.9 908.1L1033.1 911.2M1040.0 913.8L1042.5 911.9L1045.6 913.1L1046.9 916.2L1044.4 915.0L1042.5 916.2M729.2 115.0L731.7 118.3L733.3 120.8L735.8 120.0L738.3 121.7L739.2 125.0L741.7 126.7L745.0 126.2L747.5 124.2L748.3 120.8L746.7 118.3L743.3 116.7L740.8 117.5L738.3 119.2L735.8 120.0M740.0 160.0L743.0 158.7L740.0 155.0L742.0 151.3L740.0 150.0M636.7 95.8L640.0 99.2L642.5 97.5L645.0 99.2L648.3 97.5L650.8 99.2L652.5 95.8M424.4 63.8L421.9 65.6L418.1 66.9L415.0 68.1L413.1 70.6L414.4 72.5L416.2 72.5L420.0 73.1L425.0 73.1L428.8 71.9L432.5 70.0L436.2 68.8L440.6 68.5L443.8 66.9L445.0 63.8M1038.8 64.4L1047.6 67.3L1056.4 66.6L1063.7 68.1L1072.5 69.5L1079.9 71.0L1088.7 72.5L1094.5 73.9L1096.7 77.6L1100.4 81.3L1106.2 82.0L1112.1 80.5L1116.5 77.6L1115.0 74.7L1110.6 73.9L1112.1 71.7L1118.0 70.3L1125.3 68.8L1132.6 65.9L1134.8 63.7M1094.5 73.9L1098.9 71.7L1103.3 68.8L1109.2 67.3L1115.0 66.6" fill="none" stroke="#000" stroke-width="2.7" stroke-linejoin="round" stroke-linecap="round"/>
</g>
<rect x="70" y="64" width="1158" height="901" fill="none" stroke="#000" stroke-width="1.9"/>
<text x="70" y="29.6">NSF NCAR 3.75-km MPAS-A</text>
<text x="70" y="51.8">1-hr Accumulated Precipitation (mm)</text>
<text x="1228" y="29.6" text-anchor="end">Init: 2025-09-23 00:00 UTC</text>
<text x="1228" y="51.8" text-anchor="end">Valid: 2025-09-24 15:00 UTC</text>
<text x="59.8" y="199.27" text-anchor="end">15°S</text>
<text x="59.8" y="327.93" text-anchor="end">20°S</text>
<text x="59.8" y="456.60" text-anchor="end">25°S</text>
<text x="59.8" y="585.27" text-anchor="end">30°S</text>
<text x="59.8" y="713.93" text-anchor="end">35°S</text>
<text x="59.8" y="842.60" text-anchor="end">40°S</text>
<text x="327.73" y="989.8" text-anchor="middle">120°E</text>
<text x="585.07" y="989.8" text-anchor="middle">130°E</text>
<text x="842.40" y="989.8" text-anchor="middle">140°E</text>
<text x="1099.73" y="989.8" text-anchor="middle">150°E</text>
<g>
<rect x="1255.6" y="688.80" width="10.80" height="35.30" fill="#e6e6e6"/>
<rect x="1255.6" y="653.80" width="10.80" height="35.30" fill="#99d1fb"/>
<rect x="1255.6" y="618.80" width="10.80" height="35.30" fill="#339df0"/>
<rect x="1255.6" y="583.80" width="10.80" height="35.30" fill="#05558c"/>
<rect x="1255.6" y="548.80" width="10.80" height="35.30" fill="#55dc5a"/>
<rect x="1255.6" y="513.80" width="10.80" height="35.30" fill="#ffff00"/>
<rect x="1255.6" y="478.80" width="10.80" height="35.30" fill="#f5b42d"/>
<rect x="1255.6" y="443.80" width="10.80" height="35.30" fill="#eb8c28"/>
<rect x="1255.6" y="408.80" width="10.80" height="35.30" fill="#cd0f0f"/>
<rect x="1255.6" y="373.80" width="10.80" height="35.30" fill="#9b0000"/>
<rect x="1255.6" y="338.80" width="10.80" height="35.30" fill="#be32be"/>
<rect x="1255.6" y="303.80" width="10.80" height="35.30" fill="#ffc8ff"/>
<path d="M1255.6 303.80L1261.00 283.40L1266.4 303.80Z" fill="#ffc8ff"/>
<path d="M1255.6 723.80L1261.00 744.20L1266.4 723.80Z" fill="#ffffff"/>
<path d="M1255.6 723.80L1261.00 744.20L1266.4 723.80L1266.4 303.80L1261.00 283.40L1255.6 303.80Z" fill="none" stroke="#000" stroke-width="1.7" stroke-linejoin="miter"/>
<path d="M1266.4 723.80h7.3" stroke="#000" stroke-width="1.7" fill="none"/>
<text x="1281.2" y="731.40" style="font-size:18.3px">0.1</text>
<path d="M1266.4 688.80h7.3" stroke="#000" stroke-width="1.7" fill="none"/>
<text x="1281.2" y="696.40" style="font-size:18.3px">0.5</text>
<path d="M1266.4 653.80h7.3" stroke="#000" stroke-width="1.7" fill="none"/>
<text x="1281.2" y="661.40" style="font-size:18.3px">1.0</text>
<path d="M1266.4 618.80h7.3" stroke="#000" stroke-width="1.7" fill="none"/>
<text x="1281.2" y="626.40" style="font-size:18.3px">2.0</text>
<path d="M1266.4 583.80h7.3" stroke="#000" stroke-width="1.7" fill="none"/>
<text x="1281.2" y="591.40" style="font-size:18.3px">4.0</text>
<path d="M1266.4 548.80h7.3" stroke="#000" stroke-width="1.7" fill="none"/>
<text x="1281.2" y="556.40" style="font-size:18.3px">6.0</text>
<path d="M1266.4 513.80h7.3" stroke="#000" stroke-width="1.7" fill="none"/>
<text x="1281.2" y="521.40" style="font-size:18.3px">8.0</text>
<path d="M1266.4 478.80h7.3" stroke="#000" stroke-width="1.7" fill="none"/>
<text x="1281.2" y="486.40" style="font-size:18.3px">10.0</text>
<path d="M1266.4 443.80h7.3" stroke="#000" stroke-width="1.7" fill="none"/>
<text x="1281.2" y="451.40" style="font-size:18.3px">12.0</text>
<path d="M1266.4 408.80h7.3" stroke="#000" stroke-width="1.7" fill="none"/>
<text x="1281.2" y="416.40" style="font-size:18.3px">15.0</text>
<path d="M1266.4 373.80h7.3" stroke="#000" stroke-width="1.7" fill="none"/>
<text x="1281.2" y="381.40" style="font-size:18.3px">20.0</text>
<path d="M1266.4 338.80h7.3" stroke="#000" stroke-width="1.7" fill="none"/>
<text x="1281.2" y="346.40" style="font-size:18.3px">25.0</text>
<path d="M1266.4 303.80h7.3" stroke="#000" stroke-width="1.7" fill="none"/>
<text x="1281.2" y="311.40" style="font-size:18.3px">30.0</text>
<text transform="translate(1346.8 516.6) rotate(-90)" text-anchor="middle">[mm]</text>
</g>
</svg></body></html>
